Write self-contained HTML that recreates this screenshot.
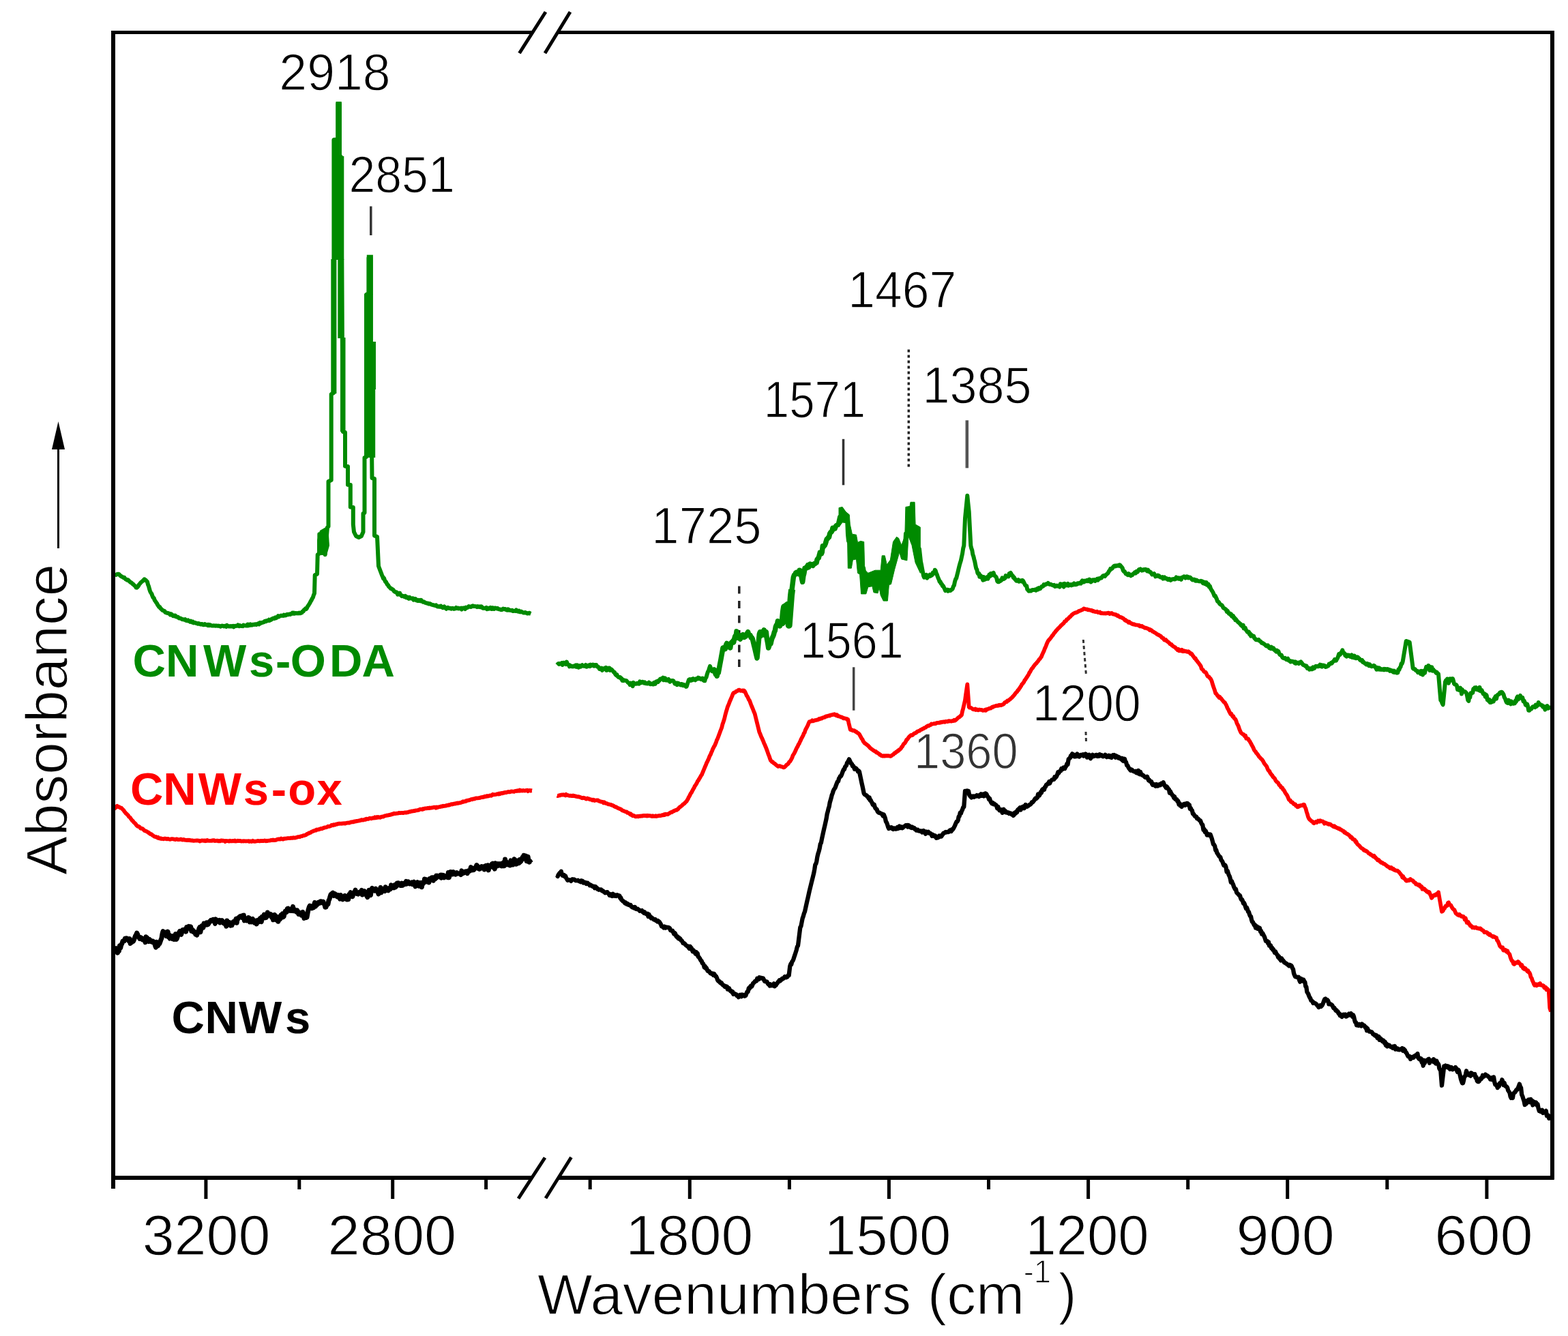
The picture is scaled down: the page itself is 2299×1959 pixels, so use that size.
<!DOCTYPE html>
<html><head><meta charset="utf-8"><title>FTIR spectra</title>
<style>html,body{margin:0;padding:0;background:#fff;overflow:hidden}svg{display:block}</style></head>
<body><svg width="2299" height="1959" viewBox="0 0 2299 1959">
<rect width="2299" height="1959" fill="#fff"/>
<line x1="543.8" y1="302.5" x2="543.8" y2="345" stroke="#333" stroke-width="3.5"/>
<line x1="1236.5" y1="643.8" x2="1236.5" y2="711.3" stroke="#333" stroke-width="3.5"/>
<line x1="1417.8" y1="616.3" x2="1417.8" y2="686.3" stroke="#555" stroke-width="4.5"/>
<line x1="1332.3" y1="512.5" x2="1332.3" y2="686.3" stroke="#222" stroke-width="3.5" stroke-dasharray="4 4"/>
<line x1="1083.8" y1="859.5" x2="1083.8" y2="982" stroke="#222" stroke-width="3.5" stroke-dasharray="11 10.5"/>
<line x1="1251.7" y1="978.3" x2="1251.7" y2="1041.7" stroke="#444" stroke-width="3.5"/>
<line x1="1588.3" y1="938" x2="1592.5" y2="990" stroke="#333" stroke-width="3" stroke-dasharray="5 4"/>
<line x1="1592" y1="1073" x2="1592.5" y2="1088.5" stroke="#333" stroke-width="3" stroke-dasharray="5 4"/>
<text x="409.33" y="132.10" font-size="75.5" fill="#000" textLength="163.29" lengthAdjust="spacingAndGlyphs" stroke="#fff" stroke-width="1.3" font-family="'Liberation Sans', Arial, sans-serif">2918</text>
<text x="511.43" y="281.50" font-size="75.5" fill="#000" textLength="155.33" lengthAdjust="spacingAndGlyphs" stroke="#fff" stroke-width="1.3" font-family="'Liberation Sans', Arial, sans-serif">2851</text>
<text x="1243.22" y="451.40" font-size="75.5" fill="#000" textLength="159.01" lengthAdjust="spacingAndGlyphs" stroke="#fff" stroke-width="1.3" font-family="'Liberation Sans', Arial, sans-serif">1467</text>
<text x="1119.78" y="612.10" font-size="75.5" fill="#000" textLength="149.46" lengthAdjust="spacingAndGlyphs" stroke="#fff" stroke-width="1.3" font-family="'Liberation Sans', Arial, sans-serif">1571</text>
<text x="1352.49" y="590.60" font-size="75.5" fill="#000" textLength="160.07" lengthAdjust="spacingAndGlyphs" stroke="#fff" stroke-width="1.3" font-family="'Liberation Sans', Arial, sans-serif">1385</text>
<text x="955.37" y="797.30" font-size="75.5" fill="#000" textLength="161.13" lengthAdjust="spacingAndGlyphs" stroke="#fff" stroke-width="1.3" font-family="'Liberation Sans', Arial, sans-serif">1725</text>
<text x="1172.96" y="965.00" font-size="75.5" fill="#000" textLength="151.59" lengthAdjust="spacingAndGlyphs" stroke="#fff" stroke-width="1.3" font-family="'Liberation Sans', Arial, sans-serif">1561</text>
<text x="1513.75" y="1057.30" font-size="75.5" fill="#000" textLength="159.01" lengthAdjust="spacingAndGlyphs" stroke="#fff" stroke-width="1.3" font-family="'Liberation Sans', Arial, sans-serif">1200</text>
<text x="1340.02" y="1126.50" font-size="75" fill="#333" textLength="152.65" lengthAdjust="spacingAndGlyphs" stroke="#fff" stroke-width="1.3" font-family="'Liberation Sans', Arial, sans-serif">1360</text>
<text x="208.66" y="1839.70" font-size="84" fill="#000" textLength="187.75" lengthAdjust="spacingAndGlyphs" stroke="#fff" stroke-width="1.3" font-family="'Liberation Sans', Arial, sans-serif">3200</text>
<text x="480.51" y="1839.70" font-size="84" fill="#000" textLength="188.76" lengthAdjust="spacingAndGlyphs" stroke="#fff" stroke-width="1.3" font-family="'Liberation Sans', Arial, sans-serif">2800</text>
<text x="917.26" y="1840.00" font-size="84" fill="#000" textLength="187.10" lengthAdjust="spacingAndGlyphs" stroke="#fff" stroke-width="1.3" font-family="'Liberation Sans', Arial, sans-serif">1800</text>
<text x="1208.87" y="1839.50" font-size="84" fill="#000" textLength="185.51" lengthAdjust="spacingAndGlyphs" stroke="#fff" stroke-width="1.3" font-family="'Liberation Sans', Arial, sans-serif">1500</text>
<text x="1503.42" y="1839.50" font-size="84" fill="#000" textLength="181.28" lengthAdjust="spacingAndGlyphs" stroke="#fff" stroke-width="1.3" font-family="'Liberation Sans', Arial, sans-serif">1200</text>
<text x="1812.56" y="1839.60" font-size="84" fill="#000" textLength="144.18" lengthAdjust="spacingAndGlyphs" stroke="#fff" stroke-width="1.3" font-family="'Liberation Sans', Arial, sans-serif">900</text>
<text x="2103.35" y="1839.60" font-size="84" fill="#000" textLength="144.17" lengthAdjust="spacingAndGlyphs" stroke="#fff" stroke-width="1.3" font-family="'Liberation Sans', Arial, sans-serif">600</text>
<text x="788.03" y="1926.80" font-size="84" fill="#000" textLength="714.12" lengthAdjust="spacingAndGlyphs" stroke="#fff" stroke-width="1.3" font-family="'Liberation Sans', Arial, sans-serif">Wavenumbers (cm</text>
<text x="1500.63" y="1880.80" font-size="48" fill="#000" textLength="40.43" lengthAdjust="spacingAndGlyphs" stroke="#fff" stroke-width="1.3" font-family="'Liberation Sans', Arial, sans-serif">-1</text>
<text x="1551.86" y="1926.40" font-size="84" fill="#000" textLength="26.50" lengthAdjust="spacingAndGlyphs" stroke="#fff" stroke-width="1.3" font-family="'Liberation Sans', Arial, sans-serif">)</text>
<text transform="rotate(-90 98.20 1283.10)" x="98.20" y="1283.10" font-size="85" fill="#000" textLength="456.43" lengthAdjust="spacingAndGlyphs" stroke="#fff" stroke-width="1.3" font-family="'Liberation Sans', Arial, sans-serif">Absorbance</text>
<text x="194.50 243.00 298.00 365.00 404.00 425.75 483.00 530.50" y="992.00" font-size="67" font-weight="bold" fill="#008a00" font-family="'Liberation Sans', Arial, sans-serif">CNWs-ODA</text>
<text x="190.90 239.20 290.80 356.70 397.70 422.30 464.50" y="1180.00" font-size="67" font-weight="bold" fill="#ff0000" font-family="'Liberation Sans', Arial, sans-serif">CNWs-ox</text>
<text x="251.40 300.40 349.90 417.90" y="1515.00" font-size="67" font-weight="bold" fill="#000" font-family="'Liberation Sans', Arial, sans-serif">CNWs</text>
<polyline points="168.3,843.3 169.3,842.9 170.3,842.9 171.3,842.2 172.3,841.9 173.3,841.7 174.3,841.9 175.3,842.9 176.3,844.2 177.3,844.6 178.3,845.5 179.3,845.8 180.3,846.5 181.3,847.1 182.3,846.8 183.3,848.3 184.3,849.4 185.3,849.9 186.3,850.6 187.3,850.1 188.3,850.8 189.3,851.9 190.3,852.8 191.3,853.8 192.3,854.3 193.3,855.0 194.4,856.2 195.4,856.6 196.5,858.0 197.5,859.0 198.6,859.5 199.6,861.6 200.7,861.7 201.8,860.6 202.8,859.4 203.9,857.1 205.0,856.0 206.1,854.5 207.2,853.6 208.3,852.6 209.5,851.8 210.6,850.5 211.7,849.3 212.8,850.1 213.8,850.8 214.9,852.0 216.0,853.3 217.0,857.3 218.0,859.6 219.0,863.5 220.0,866.7 221.1,869.1 222.2,870.4 223.3,873.4 224.5,876.2 225.6,876.8 226.7,880.0 227.8,881.5 228.9,883.3 230.0,884.6 231.1,886.9 232.2,888.3 233.3,890.0 234.3,890.1 235.3,892.1 236.3,892.8 237.3,893.8 238.3,894.9 239.3,895.2 240.3,895.9 241.3,896.0 242.3,897.8 243.3,898.3 244.3,898.4 245.4,898.9 246.4,898.9 247.5,899.5 248.5,900.1 249.6,901.5 250.6,900.2 251.7,900.9 252.7,902.2 253.7,903.2 254.8,903.2 255.8,902.4 256.9,902.5 257.9,904.3 259.0,904.2 260.0,905.0 261.0,904.8 262.1,906.2 263.1,906.6 264.2,906.5 265.2,906.9 266.3,907.4 267.3,908.3 268.4,908.2 269.4,908.5 270.4,908.8 271.5,908.1 272.5,909.9 273.6,910.1 274.6,910.3 275.7,909.4 276.7,910.7 277.7,910.7 278.8,911.7 279.8,910.6 280.9,911.7 281.9,912.6 282.9,911.7 284.0,913.4 285.0,913.1 286.0,913.0 287.1,913.5 288.1,914.0 289.1,914.0 290.2,914.8 291.2,914.1 292.3,914.5 293.3,915.0 294.3,915.6 295.3,915.2 296.3,914.9 297.3,915.9 298.3,916.3 299.3,915.5 300.3,915.1 301.3,915.9 302.3,916.0 303.3,916.0 304.3,917.0 305.3,915.9 306.3,917.1 307.3,916.0 308.3,916.3 309.3,917.2 310.3,917.5 311.3,917.5 312.3,917.4 313.3,917.3 314.3,917.4 315.3,917.5 316.4,917.7 317.4,917.4 318.4,917.7 319.4,917.8 320.4,917.6 321.4,918.0 322.5,918.0 323.5,918.7 324.5,917.9 325.5,917.6 326.5,917.7 327.5,917.9 328.6,918.4 329.6,917.8 330.6,918.2 331.6,919.0 332.6,916.8 333.6,917.6 334.7,918.3 335.7,918.5 336.7,918.3 337.7,918.4 338.7,918.0 339.7,918.5 340.8,918.3 341.8,917.8 342.8,919.3 343.8,918.2 344.8,917.7 345.8,917.9 346.8,917.8 347.8,917.8 348.9,916.4 349.9,917.5 350.9,918.2 351.9,917.1 352.9,917.6 353.9,918.0 354.9,917.9 355.9,918.2 357.0,916.6 358.0,917.2 359.0,917.2 360.0,917.3 361.0,917.5 362.1,917.6 363.1,915.5 364.2,917.3 365.2,915.9 366.3,916.8 367.3,915.5 368.4,916.2 369.4,916.6 370.4,915.8 371.5,915.8 372.5,916.0 373.6,915.5 374.6,915.2 375.7,915.9 376.7,915.0 377.7,915.2 378.8,914.2 379.8,915.4 380.9,913.2 381.9,913.9 382.9,913.0 384.0,912.9 385.0,912.9 386.0,912.3 387.1,912.2 388.1,910.8 389.1,910.5 390.2,911.2 391.2,910.1 392.3,909.8 393.3,910.0 394.3,908.8 395.4,909.8 396.4,909.1 397.5,909.1 398.5,907.4 399.6,907.5 400.6,906.5 401.6,907.0 402.7,907.0 403.7,905.4 404.8,906.2 405.8,905.5 406.9,904.5 407.9,903.2 409.0,904.4 410.0,903.3 411.0,903.0 412.1,902.6 413.1,902.9 414.2,902.7 415.2,903.0 416.3,901.6 417.3,902.4 418.4,902.4 419.4,902.2 420.4,901.1 421.5,900.7 422.5,901.3 423.6,900.7 424.6,900.5 425.7,900.9 426.7,900.0 427.7,899.8 428.7,898.6 429.7,899.5 430.7,898.6 431.7,899.8 432.7,899.5 433.7,898.9 434.7,899.1 435.7,899.4 436.7,898.9 437.7,899.4 438.7,898.6 439.7,899.0 440.7,899.2 441.7,898.3 442.7,898.3 443.8,896.3 444.8,896.3 445.9,894.1 446.9,893.6 447.9,892.4 449.0,893.1 450.0,891.7 451.1,889.1 452.2,887.8 453.4,885.8 454.5,883.9 455.6,881.7 456.7,880.0 457.8,877.6 458.9,875.9 459.9,872.5 461.0,870.0 461.7,843.3 462.8,842.8 463.9,842.2 465.0,841.7 465.7,813.3 467.0,812.5 468.3,811.7 468.3,783.3 469.5,785.5 470.8,787.8 472.0,790.0 473.0,785.0 474.0,780.0 475.4,796.6 476.7,813.3 477.8,800.0 478.9,786.6 480.0,773.3 481.5,772.0 481.5,706.0 482.6,705.5 483.6,705.0 484.6,704.5 485.7,704.0 485.7,578.0 486.9,577.3 488.2,576.7 489.4,576.0 489.4,382.0 489.4,205.0 490.6,204.8 491.8,204.6 492.9,204.4 494.1,204.2 495.3,204.0 495.3,152.0 497.0,152.0 498.0,152.0 498.0,228.0 499.0,229.0 500.0,230.0 501.4,431.5 502.8,633.0 503.9,633.3 504.9,633.7 506.0,634.0 506.0,683.6 507.0,683.7 508.0,683.8 509.0,683.9 510.0,684.0 510.0,710.8 511.3,710.9 512.5,710.9 513.8,711.0 513.8,743.4 514.8,743.5 515.8,743.7 516.8,743.9 517.8,744.0 517.8,769.0 519.0,780.0 520.0,782.0 521.0,784.0 522.0,786.0 523.0,786.5 524.0,787.0 525.0,787.5 526.0,788.0 527.0,787.5 528.0,787.0 529.0,786.5 530.0,786.0 531.2,783.0 532.5,780.0 532.5,753.0 533.5,752.5 534.5,752.0 534.5,671.0 535.8,670.5 537.0,670.0 537.0,432.0 538.2,431.3 539.3,430.7 540.5,430.0 540.5,378.0 542.0,377.0 543.5,378.0 543.5,502.0 544.5,601.5 545.5,701.0 546.7,701.3 547.8,701.7 549.0,702.0 549.0,785.5 550.0,785.9 551.0,786.2 552.0,786.6 553.0,787.0 554.0,808.5 555.0,830.0 556.0,832.7 557.0,835.3 558.0,838.0 559.0,840.6 560.0,843.3 561.0,845.3 562.0,848.3 563.0,847.7 564.0,850.5 565.0,853.0 566.0,853.2 567.0,855.4 568.0,857.3 569.0,857.7 570.0,860.0 571.0,860.8 572.0,861.9 573.0,863.1 574.0,863.3 575.0,864.0 576.0,864.3 577.0,865.6 578.0,867.3 579.0,867.5 580.0,868.3 581.0,868.2 582.0,868.7 583.1,871.7 584.1,871.2 585.1,871.3 586.1,869.6 587.2,872.3 588.2,872.8 589.2,874.1 590.2,873.8 591.3,873.9 592.3,874.9 593.3,875.0 594.3,873.9 595.3,876.2 596.3,876.0 597.3,875.5 598.3,877.2 599.3,877.8 600.3,875.8 601.3,876.5 602.3,877.5 603.3,877.6 604.3,877.5 605.3,877.3 606.3,879.7 607.3,879.2 608.3,877.9 609.3,878.1 610.3,880.4 611.3,880.2 612.3,881.0 613.3,880.0 614.3,880.9 615.3,880.1 616.3,881.2 617.3,879.8 618.3,881.2 619.3,882.0 620.3,882.7 621.3,882.2 622.3,882.9 623.3,883.7 624.3,883.9 625.3,884.5 626.3,884.5 627.3,884.5 628.3,885.6 629.3,885.4 630.3,885.1 631.3,885.6 632.3,886.4 633.3,886.7 634.3,886.9 635.3,887.3 636.3,887.4 637.3,887.8 638.3,887.9 639.3,887.3 640.3,888.7 641.3,889.4 642.3,889.3 643.3,889.1 644.3,889.8 645.3,889.0 646.3,888.6 647.3,890.2 648.3,889.8 649.3,891.2 650.3,890.2 651.3,889.4 652.3,890.7 653.3,891.7 654.3,892.8 655.4,891.4 656.4,890.7 657.4,891.2 658.4,892.1 659.5,892.0 660.5,891.8 661.5,892.7 662.5,892.2 663.6,891.7 664.6,892.1 665.6,892.9 666.6,892.4 667.7,892.4 668.7,890.9 669.7,891.6 670.8,892.2 671.8,891.5 672.8,892.4 673.8,892.1 674.9,892.3 675.9,891.6 676.9,893.5 677.9,892.6 679.0,891.5 680.0,891.7 681.0,891.5 682.0,893.0 683.1,890.7 684.1,891.3 685.1,891.1 686.1,890.1 687.2,889.1 688.2,889.7 689.2,889.6 690.2,889.9 691.3,889.4 692.3,888.6 693.3,888.3 694.3,889.1 695.4,889.1 696.4,889.1 697.5,889.2 698.5,889.2 699.6,890.1 700.6,889.0 701.6,889.6 702.7,890.2 703.7,889.4 704.8,890.3 705.8,889.4 706.9,890.6 707.9,891.7 709.0,891.9 710.0,891.7 711.0,891.7 712.1,891.7 713.1,890.9 714.1,893.2 715.1,892.4 716.2,892.8 717.2,891.5 718.2,892.1 719.2,891.0 720.3,892.9 721.3,893.0 722.3,891.1 723.4,892.5 724.4,893.0 725.4,891.4 726.4,891.4 727.5,892.0 728.5,892.4 729.5,891.9 730.5,893.0 731.6,893.2 732.6,893.5 733.6,893.6 734.6,894.2 735.7,894.1 736.7,893.3 737.7,892.5 738.7,893.2 739.7,893.0 740.8,893.1 741.8,894.0 742.8,894.2 743.8,894.7 744.8,893.4 745.8,893.8 746.8,894.8 747.8,894.8 748.9,894.9 749.9,895.2 750.9,894.8 751.9,896.0 752.9,895.9 753.9,895.8 754.9,895.5 755.9,896.0 757.0,894.4 758.0,895.7 759.0,896.6 760.0,896.7 761.0,895.8 762.0,897.2 763.0,897.4 764.1,896.5 765.1,897.4 766.1,897.6 767.1,898.3 768.1,898.6 769.1,898.3 770.2,897.9 771.2,898.6 772.2,898.9 773.2,899.6 774.2,899.5 775.2,898.9 776.3,898.7 777.3,899.6 778.3,900.0" fill="none" stroke="#008a00" stroke-width="6.0" stroke-linejoin="round" stroke-linecap="butt"/>
<polygon points="1230.0,744.5 1235.1,743.4 1240.2,750.6 1245.3,754.7 1246.3,768.9 1249.4,783.2 1255.5,784.2 1257.5,795.4 1261.6,793.4 1266.7,794.4 1267.7,835.2 1272.8,840.3 1283.0,836.2 1291.2,836.2 1293.2,814.8 1297.3,814.8 1300.3,828.0 1305.4,821.0 1309.5,794.4 1314.6,787.3 1317.7,789.3 1321.7,799.5 1326.8,786.3 1327.9,743.4 1334.0,742.4 1335.0,736.3 1341.1,736.3 1342.1,768.9 1349.3,773.0 1349.3,840.3 1342.1,825.0 1337.0,799.5 1331.9,786.3 1329.9,821.9 1321.7,819.9 1318.7,809.7 1311.6,835.2 1306.5,856.6 1303.4,857.6 1301.4,881.1 1295.2,881.1 1291.2,872.9 1289.1,861.7 1287.1,869.8 1281.0,868.8 1278.9,859.7 1272.8,860.7 1269.8,870.9 1262.6,870.9 1260.6,842.3 1257.5,840.3 1255.5,819.9 1250.4,820.9 1248.3,833.2 1243.3,833.2 1242.2,766.9 1235.1,765.9 1230.0,773.0" fill="#008a00" stroke="#008a00" stroke-width="1"/>
<polyline points="1045.1,982.2 1046.1,983.8 1047.2,982.0 1048.2,984.8 1049.2,988.6 1050.2,983.5 1051.3,991.3 1052.3,984.6 1053.3,986.7 1054.4,980.6 1055.5,974.5 1056.7,968.4 1057.8,962.2 1058.9,956.1 1060.0,950.0 1061.1,949.8 1062.2,949.8 1063.3,951.6 1064.5,945.9 1065.6,943.5 1066.7,948.3 1067.7,948.6 1068.7,947.9 1069.7,946.3 1070.7,950.0 1071.7,943.0 1072.7,941.9 1073.7,942.4 1074.7,939.9 1075.7,941.9 1076.7,936.7 1077.8,932.9 1078.9,934.1 1080.0,925.9 1081.1,935.3 1082.2,931.6 1083.3,931.7 1084.3,934.1 1085.3,937.2 1086.3,932.2 1087.3,931.7 1088.3,931.3 1089.3,930.6 1090.3,931.3 1091.3,934.5 1092.3,933.2 1093.3,933.3 1094.4,931.3 1095.6,928.5 1096.7,926.7 1097.8,930.6 1098.9,931.2 1100.0,931.4 1101.1,935.0 1102.2,934.7 1103.3,936.7 1104.4,941.4 1105.5,946.1 1106.7,950.9 1107.8,955.6 1108.9,960.3 1110.0,965.0 1111.1,953.3 1112.2,941.7 1113.3,930.0 1114.3,926.9 1115.3,932.8 1116.3,930.1 1117.3,926.4 1118.3,930.9 1119.3,928.8 1120.3,923.9 1121.3,931.2 1122.3,927.8 1123.3,926.7 1124.4,936.6 1125.6,942.7 1126.7,950.0 1127.8,946.9 1128.9,940.7 1130.0,944.0 1131.1,938.9 1132.2,935.4 1133.3,933.3 1134.3,930.8 1135.3,926.8 1136.3,925.0 1137.3,919.1 1138.3,916.7 1139.3,916.2 1140.4,910.7 1141.5,914.4 1142.5,916.6 1143.5,917.8 1144.6,913.3 1145.7,913.4 1146.7,913.3 1147.8,909.3 1148.9,897.0 1150.0,890.0 1151.0,891.1 1152.0,892.7 1153.0,888.1 1154.0,890.3 1155.0,886.7 1156.7,916.7 1157.8,902.2 1158.9,887.8 1160.0,873.3 1161.1,864.4 1162.2,855.6 1163.3,846.7 1164.4,843.3 1165.6,842.6 1166.7,840.0 1167.8,839.3 1168.9,839.1 1170.0,840.2 1171.1,841.6 1172.2,836.2 1173.3,836.7 1174.4,841.3 1175.6,848.6 1176.7,853.3 1177.8,844.9 1178.9,840.8 1180.0,833.3 1181.1,833.7 1182.2,831.8 1183.3,832.5 1184.5,828.6 1185.6,831.8 1186.7,830.0 1187.7,827.1 1188.8,828.1 1189.8,827.9 1190.8,827.7 1191.9,829.3 1192.9,827.7 1194.0,826.5 1195.0,826.7 1196.0,825.5 1197.1,825.1 1198.1,820.4 1199.2,818.9 1200.2,818.2 1201.2,814.6 1202.3,810.0 1203.3,810.0 1204.3,812.0 1205.3,809.5 1206.3,800.8 1207.3,801.9 1208.3,800.7 1209.3,799.5 1210.3,797.1 1211.3,793.6 1212.3,790.3 1213.3,790.0 1214.4,788.2 1215.5,787.8 1216.7,782.4 1217.8,780.6 1218.9,780.2 1220.0,778.3 1221.0,774.2 1222.1,775.8 1223.1,774.5 1224.2,774.9 1225.2,772.0 1226.2,770.7 1227.3,770.4" fill="none" stroke="#008a00" stroke-width="7.5" stroke-linejoin="round"/>
<polyline points="1145.7,913.4 1146.7,913.3 1147.8,909.3 1148.9,897.0 1150.0,890.0 1151.0,891.1 1152.0,892.7 1153.0,888.1 1154.0,890.3 1155.0,886.7 1156.7,916.7 1157.8,902.2 1158.9,887.8 1160.0,873.3 1161.1,864.4" fill="none" stroke="#008a00" stroke-width="10" stroke-linejoin="round"/>
<polyline points="816.7,975.0 817.7,973.9 818.7,973.1 819.7,973.9 820.7,973.1 821.7,973.5 822.7,973.6 823.7,972.2 824.7,974.9 825.7,971.7 826.7,971.7 827.7,973.3 828.7,972.6 829.8,974.1 830.8,970.6 831.8,972.8 832.8,974.3 833.9,975.1 834.9,977.3 835.9,975.5 836.9,977.0 838.0,976.8 839.0,977.4 840.0,976.7 841.0,977.2 842.1,976.4 843.1,977.1 844.2,975.3 845.2,977.8 846.3,975.3 847.3,976.7 848.4,978.7 849.4,976.1 850.4,976.3 851.5,977.5 852.5,976.2 853.6,975.2 854.6,976.4 855.7,976.7 856.7,976.0 857.7,976.7 858.8,975.0 859.8,977.7 860.9,977.6 861.9,975.7 862.9,975.9 864.0,975.1 865.0,977.1 866.0,974.7 867.1,976.1 868.1,974.8 869.1,974.5 870.2,976.0 871.2,976.6 872.3,975.1 873.3,975.0 874.4,975.1 875.5,977.6 876.6,977.4 877.8,978.7 878.9,980.8 880.0,980.0 881.0,981.4 882.1,979.6 883.1,982.8 884.2,980.4 885.2,981.4 886.3,979.9 887.3,980.7 888.4,978.9 889.4,982.9 890.4,982.6 891.5,979.8 892.5,979.6 893.6,979.6 894.6,982.8 895.7,981.1 896.7,981.7 897.8,983.0 898.9,984.1 900.0,985.7 901.1,986.0 902.2,988.6 903.3,990.0 904.3,989.1 905.3,991.3 906.3,992.3 907.3,993.2 908.3,993.1 909.3,993.0 910.3,994.9 911.3,994.8 912.3,997.8 913.3,996.7 914.3,998.1 915.4,997.6 916.4,997.7 917.4,998.0 918.5,998.2 919.5,999.4 920.5,1000.6 921.5,1001.3 922.6,1001.9 923.6,1004.1 924.6,1001.5 925.7,1002.8 926.7,1003.3 927.7,1006.2 928.8,1000.9 929.8,1002.2 930.9,1002.8 931.9,1002.7 932.9,1002.8 934.0,1001.9 935.0,1002.4 936.0,1001.9 937.1,1002.5 938.1,999.4 939.1,1000.4 940.2,1001.2 941.2,999.9 942.3,999.7 943.3,1000.7 944.3,1001.6 945.4,1000.4 946.4,1002.0 947.4,1002.3 948.5,1002.0 949.5,1002.5 950.5,1002.0 951.5,1000.7 952.6,1002.5 953.6,1003.2 954.6,1002.3 955.7,1003.0 956.7,1003.3 957.7,1003.5 958.7,1001.1 959.8,1002.1 960.8,1002.8 961.8,999.5 962.8,999.6 963.9,998.7 964.9,999.9 965.9,997.9 966.9,997.9 968.0,995.5 969.0,995.6 970.0,995.0 971.0,995.2 972.0,993.6 973.1,997.3 974.1,997.0 975.1,994.3 976.1,997.3 977.2,996.6 978.2,997.5 979.2,997.7 980.2,995.9 981.3,997.6 982.3,999.7 983.3,998.3 984.3,998.1 985.4,997.9 986.4,998.0 987.4,998.5 988.5,1000.6 989.5,1002.5 990.5,1001.5 991.5,1001.6 992.6,1004.2 993.6,1001.6 994.6,1001.8 995.7,1003.5 996.7,1003.3 997.7,1004.2 998.7,1002.9 999.7,1003.0 1000.7,1005.0 1001.7,1005.3 1002.7,1003.9 1003.7,1005.5 1004.7,1005.4 1005.7,1006.9 1006.7,1006.7 1007.8,1003.2 1008.9,999.9 1010.0,996.7 1011.0,996.2 1012.1,997.6 1013.1,997.9 1014.2,995.9 1015.2,997.1 1016.3,995.2 1017.3,996.0 1018.4,996.7 1019.4,997.4 1020.4,995.2 1021.5,995.4 1022.5,995.6 1023.6,993.7 1024.6,995.2 1025.7,994.4 1026.7,995.0 1027.8,996.0 1028.9,994.9 1030.0,994.5 1031.1,997.2 1032.2,998.0 1033.3,998.3 1034.4,994.6 1035.5,993.2 1036.7,988.8 1037.8,985.4 1038.9,983.6 1040.0,980.0 1041.0,976.8 1042.0,979.4 1043.1,981.5 1044.1,984.1 1045.1,982.2 1046.1,983.8 1047.2,982.0 1048.2,984.8 1049.2,988.6 1050.2,983.5 1051.3,991.3 1052.3,984.6 1053.3,986.7 1054.4,980.6 1055.5,974.5 1056.7,968.4 1057.8,962.2 1058.9,956.1 1060.0,950.0 1061.1,949.8 1062.2,949.8 1063.3,951.6 1064.5,945.9 1065.6,943.5 1066.7,948.3 1067.7,948.6 1068.7,947.9 1069.7,946.3 1070.7,950.0 1071.7,943.0 1072.7,941.9 1073.7,942.4 1074.7,939.9 1075.7,941.9 1076.7,936.7 1077.8,932.9 1078.9,934.1 1080.0,925.9 1081.1,935.3 1082.2,931.6 1083.3,931.7 1084.3,934.1 1085.3,937.2 1086.3,932.2 1087.3,931.7 1088.3,931.3 1089.3,930.6 1090.3,931.3 1091.3,934.5 1092.3,933.2 1093.3,933.3 1094.4,931.3 1095.6,928.5 1096.7,926.7 1097.8,930.6 1098.9,931.2 1100.0,931.4 1101.1,935.0 1102.2,934.7 1103.3,936.7 1104.4,941.4 1105.5,946.1 1106.7,950.9 1107.8,955.6 1108.9,960.3 1110.0,965.0 1111.1,953.3 1112.2,941.7 1113.3,930.0 1114.3,926.9 1115.3,932.8 1116.3,930.1 1117.3,926.4 1118.3,930.9 1119.3,928.8 1120.3,923.9 1121.3,931.2 1122.3,927.8 1123.3,926.7 1124.4,936.6 1125.6,942.7 1126.7,950.0 1127.8,946.9 1128.9,940.7 1130.0,944.0 1131.1,938.9 1132.2,935.4 1133.3,933.3 1134.3,930.8 1135.3,926.8 1136.3,925.0 1137.3,919.1 1138.3,916.7 1139.3,916.2 1140.4,910.7 1141.5,914.4 1142.5,916.6 1143.5,917.8 1144.6,913.3 1145.7,913.4 1146.7,913.3 1147.8,909.3 1148.9,897.0 1150.0,890.0 1151.0,891.1 1152.0,892.7 1153.0,888.1 1154.0,890.3 1155.0,886.7 1156.7,916.7 1157.8,902.2 1158.9,887.8 1160.0,873.3 1161.1,864.4 1162.2,855.6 1163.3,846.7 1164.4,843.3 1165.6,842.6 1166.7,840.0 1167.8,839.3 1168.9,839.1 1170.0,840.2 1171.1,841.6 1172.2,836.2 1173.3,836.7 1174.4,841.3 1175.6,848.6 1176.7,853.3 1177.8,844.9 1178.9,840.8 1180.0,833.3 1181.1,833.7 1182.2,831.8 1183.3,832.5 1184.5,828.6 1185.6,831.8 1186.7,830.0 1187.7,827.1 1188.8,828.1 1189.8,827.9 1190.8,827.7 1191.9,829.3 1192.9,827.7 1194.0,826.5 1195.0,826.7 1196.0,825.5 1197.1,825.1 1198.1,820.4 1199.2,818.9 1200.2,818.2 1201.2,814.6 1202.3,810.0 1203.3,810.0 1204.3,812.0 1205.3,809.5 1206.3,800.8 1207.3,801.9 1208.3,800.7 1209.3,799.5 1210.3,797.1 1211.3,793.6 1212.3,790.3 1213.3,790.0 1214.4,788.2 1215.5,787.8 1216.7,782.4 1217.8,780.6 1218.9,780.2 1220.0,778.3 1221.0,774.2 1222.1,775.8 1223.1,774.5 1224.2,774.9 1225.2,772.0 1226.2,770.7 1227.3,770.4 1228.3,770.0 1229.7,763.9 1231.0,757.9 1232.0,757.1 1233.0,756.3 1234.0,755.5 1235.0,754.7 1236.0,755.3 1237.0,756.1 1238.0,756.9 1239.0,757.7 1240.0,758.5 1241.0,759.0 1242.0,759.5 1243.0,784.0 1244.0,793.4 1245.0,793.8 1246.0,798.9 1247.0,802.7 1248.0,805.0 1249.0,805.2 1250.0,803.3 1251.0,802.1 1252.0,802.1 1253.0,802.1 1254.0,802.1 1255.0,802.1 1256.0,806.0 1257.0,813.9 1258.0,817.9 1259.0,818.0 1260.0,818.0 1261.0,820.9 1262.0,827.9 1263.0,832.3 1264.0,832.4 1265.0,832.5 1266.0,832.6 1267.0,838.8 1268.0,853.2 1269.0,853.7 1270.0,853.9 1271.0,852.7 1272.0,851.5 1273.0,850.4 1274.0,850.2 1275.0,849.9 1276.0,849.6 1277.0,849.3 1278.0,849.0 1279.0,849.0 1280.0,850.9 1281.0,852.9 1282.0,852.8 1283.0,852.7 1284.0,852.7 1285.0,852.8 1286.0,852.9 1287.0,853.0 1288.0,851.2 1289.0,849.2 1290.0,851.4 1291.0,854.0 1292.0,851.1 1293.0,846.8 1294.0,846.7 1295.0,847.7 1296.0,848.0 1297.0,848.0 1298.0,849.5 1299.0,851.7 1300.0,853.9 1301.0,854.1 1302.0,849.9 1303.0,843.3 1304.0,840.2 1305.0,839.3 1306.0,836.9 1307.0,832.6 1308.0,827.2 1309.0,821.9 1310.0,817.8 1311.0,815.0 1312.0,812.3 1313.0,809.8 1314.0,807.4 1315.0,805.3 1316.0,803.8 1317.0,802.3 1318.0,801.1 1319.0,801.7 1320.0,804.6 1321.0,807.6 1322.0,809.3 1323.0,808.2 1324.0,807.0 1325.0,805.8 1326.0,804.7 1327.0,799.8 1328.0,782.4 1329.0,782.5 1330.0,781.6 1331.0,772.6 1332.0,764.6 1333.0,765.9 1334.0,767.1 1335.0,765.3 1336.0,766.6 1337.0,767.9 1338.0,770.4 1339.0,772.9 1340.0,775.4 1341.0,777.9 1342.0,795.1 1343.0,798.2 1344.0,799.5 1345.0,800.9 1346.0,802.2 1347.0,803.6 1348.0,804.9 1349.0,814.1 1350.0,823.3 1351.0,828.0 1352.0,833.6 1353.0,838.8 1354.0,844.1 1355.0,846.7 1356.1,845.5 1357.1,845.6 1358.2,842.8 1359.3,847.7 1360.3,844.3 1361.4,844.8 1362.4,845.2 1363.5,842.6 1364.6,844.5 1365.6,843.6 1366.7,843.3 1367.7,839.8 1368.7,841.0 1369.7,840.8 1370.7,835.8 1371.7,836.7 1372.7,840.3 1373.7,842.3 1374.7,845.2 1375.7,847.9 1376.7,850.0 1377.7,853.2 1378.8,853.1 1379.8,856.0 1380.8,856.2 1381.9,859.2 1382.9,859.0 1384.0,861.5 1385.0,863.3 1386.0,866.1 1387.0,865.2 1388.0,865.2 1389.0,864.6 1390.0,866.7 1391.1,865.2 1392.2,865.8 1393.3,866.1 1394.5,864.9 1395.6,864.5 1396.7,863.3 1397.8,859.9 1398.9,858.3 1400.0,852.8 1401.1,849.3 1402.2,847.7 1403.3,843.3 1404.4,838.9 1405.5,834.1 1406.7,829.3 1407.8,825.3 1408.9,821.9 1410.0,816.7 1411.1,811.6 1412.2,804.1 1413.3,800.0 1415.0,760.0 1416.1,748.9 1417.2,737.8 1418.3,726.7 1419.5,738.9 1420.7,750.0 1422.0,775.0 1423.3,800.0 1424.3,804.2 1425.3,806.8 1426.3,812.9 1427.3,815.7 1428.3,820.0 1429.3,823.6 1430.3,829.0 1431.3,833.6 1432.3,835.2 1433.3,840.0 1434.3,841.5 1435.3,840.9 1436.3,845.8 1437.3,843.4 1438.3,846.4 1439.3,845.2 1440.3,848.0 1441.3,850.7 1442.3,846.0 1443.3,850.0 1444.3,848.7 1445.4,849.1 1446.4,847.6 1447.4,846.1 1448.5,848.7 1449.5,845.5 1450.5,842.6 1451.5,844.9 1452.6,841.0 1453.6,843.7 1454.6,840.8 1455.7,840.9 1456.7,840.0 1457.8,843.7 1458.9,844.6 1460.0,845.4 1461.1,847.3 1462.2,852.1 1463.3,853.3 1464.3,853.3 1465.4,851.3 1466.4,852.2 1467.4,851.2 1468.5,850.7 1469.5,847.4 1470.5,848.6 1471.5,849.0 1472.6,848.2 1473.6,847.7 1474.6,844.1 1475.7,845.8 1476.7,845.0 1477.7,844.4 1478.7,845.3 1479.7,841.1 1480.7,840.7 1481.7,840.0 1482.7,841.5 1483.8,843.7 1484.8,844.0 1485.8,846.9 1486.9,846.6 1487.9,849.0 1489.0,849.8 1490.0,851.7 1491.0,851.8 1492.0,851.1 1493.0,850.3 1494.0,852.7 1495.0,852.0 1496.0,851.2 1497.0,851.9 1498.0,852.6 1499.0,850.8 1500.0,851.7 1501.0,853.5 1502.1,855.9 1503.1,857.8 1504.2,858.9 1505.2,859.2 1506.2,864.1 1507.3,865.1 1508.3,866.7 1509.4,866.6 1510.4,866.1 1511.5,866.5 1512.6,865.7 1513.6,865.0 1514.7,865.1 1515.7,865.1 1516.8,864.9 1517.9,864.3 1518.9,865.7 1520.0,865.0 1521.0,863.2 1522.1,864.3 1523.1,862.2 1524.2,862.8 1525.2,863.1 1526.3,861.4 1527.3,860.0 1528.3,860.0 1529.4,859.5 1530.4,857.2 1531.5,857.6 1532.5,857.6 1533.6,856.5 1534.6,856.3 1535.7,856.3 1536.7,855.0 1537.7,856.2 1538.7,856.8 1539.7,857.0 1540.7,856.7 1541.7,857.5 1542.7,857.8 1543.7,858.2 1544.7,858.8 1545.7,857.9 1546.7,860.0 1547.7,859.5 1548.7,859.6 1549.7,858.6 1550.7,859.3 1551.7,859.6 1552.7,858.8 1553.7,860.7 1554.7,856.3 1555.7,858.3 1556.7,858.3 1557.7,856.6 1558.7,859.1 1559.7,860.5 1560.7,855.8 1561.7,858.2 1562.7,858.5 1563.7,857.7 1564.7,858.4 1565.7,855.8 1566.7,858.6 1567.7,858.1 1568.7,857.7 1569.7,857.1 1570.7,858.2 1571.7,857.1 1572.7,857.7 1573.7,857.0 1574.7,855.4 1575.7,857.3 1576.7,857.3 1577.7,857.1 1578.7,857.1 1579.8,855.2 1580.8,855.5 1581.8,855.7 1582.8,854.8 1583.9,855.4 1584.9,855.6 1585.9,852.6 1586.9,851.3 1588.0,853.3 1589.0,853.5 1590.0,851.7 1591.0,852.5 1592.1,852.3 1593.1,851.0 1594.2,850.8 1595.2,852.2 1596.3,850.5 1597.3,849.6 1598.3,850.3 1599.4,853.4 1600.4,852.8 1601.5,850.4 1602.5,850.3 1603.6,851.1 1604.6,850.2 1605.7,851.9 1606.7,850.7 1607.7,850.2 1608.7,848.8 1609.8,850.6 1610.8,848.4 1611.8,848.7 1612.8,848.1 1613.9,847.3 1614.9,847.5 1615.9,846.1 1616.9,844.7 1618.0,843.9 1619.0,844.3 1620.0,845.0 1621.0,843.2 1622.0,842.7 1623.1,841.6 1624.1,840.9 1625.1,839.3 1626.1,837.4 1627.2,836.3 1628.2,833.9 1629.2,834.5 1630.2,833.9 1631.3,832.8 1632.3,831.0 1633.3,830.0 1634.3,829.6 1635.4,830.4 1636.5,829.4 1637.5,829.8 1638.5,829.5 1639.6,828.9 1640.7,829.7 1641.7,828.3 1642.7,829.1 1643.7,830.7 1644.7,831.6 1645.7,832.9 1646.7,836.4 1647.7,837.9 1648.7,837.7 1649.7,839.5 1650.7,841.4 1651.7,841.7 1652.7,842.6 1653.8,843.2 1654.8,841.2 1655.8,841.9 1656.9,843.1 1657.9,844.2 1659.0,843.2 1660.0,843.3 1661.0,841.7 1662.0,841.3 1663.0,840.2 1664.0,839.2 1665.0,840.5 1666.0,837.8 1667.0,837.5 1668.0,838.6 1669.0,836.9 1670.0,835.0 1671.0,835.3 1672.0,834.4 1673.0,835.4 1674.0,836.5 1675.0,835.6 1676.0,836.1 1677.0,835.1 1678.0,835.5 1679.0,834.8 1680.0,835.0 1681.0,836.0 1682.0,837.4 1683.1,835.6 1684.1,837.5 1685.1,838.4 1686.1,838.3 1687.2,839.2 1688.2,840.8 1689.2,842.5 1690.2,842.0 1691.3,842.3 1692.3,841.3 1693.3,843.3 1694.3,845.4 1695.3,844.0 1696.3,844.3 1697.3,843.6 1698.3,844.9 1699.3,844.3 1700.3,845.7 1701.3,846.4 1702.3,846.3 1703.3,846.9 1704.3,846.2 1705.3,848.6 1706.3,847.1 1707.3,846.4 1708.3,848.2 1709.3,848.0 1710.3,848.1 1711.3,849.0 1712.3,849.9 1713.3,850.0 1714.3,848.8 1715.4,849.6 1716.4,850.9 1717.4,850.1 1718.5,849.2 1719.5,849.3 1720.5,849.0 1721.5,848.9 1722.6,849.5 1723.6,848.6 1724.6,846.4 1725.7,848.4 1726.7,848.3 1727.7,847.4 1728.8,848.7 1729.8,847.5 1730.8,848.0 1731.9,849.8 1732.9,846.8 1734.0,846.6 1735.0,846.2 1736.0,845.2 1737.1,845.6 1738.1,847.5 1739.2,846.5 1740.2,845.3 1741.2,845.6 1742.3,847.4 1743.3,846.7 1744.3,846.4 1745.4,847.1 1746.4,848.2 1747.4,849.5 1748.5,850.4 1749.5,849.9 1750.5,849.5 1751.5,849.9 1752.6,851.8 1753.6,851.8 1754.6,850.7 1755.7,851.7 1756.7,851.7 1757.7,852.3 1758.7,852.4 1759.7,852.2 1760.7,851.8 1761.7,852.9 1762.7,852.3 1763.7,855.1 1764.7,854.8 1765.7,853.6 1766.7,856.3 1767.7,856.2 1768.7,854.0 1769.7,857.7 1770.7,857.1 1771.7,856.7 1772.8,860.5 1773.9,859.5 1775.0,863.0 1776.1,864.8 1777.2,866.5 1778.3,868.3 1779.4,870.7 1780.5,873.8 1781.7,873.5 1782.8,876.0 1783.9,878.1 1785.0,881.7 1786.1,882.2 1787.1,883.2 1788.2,885.2 1789.3,886.2 1790.3,887.0 1791.4,887.4 1792.4,888.6 1793.5,891.1 1794.6,892.0 1795.6,892.3 1796.7,893.3 1797.7,894.0 1798.8,896.9 1799.8,895.8 1800.8,898.1 1801.9,899.7 1802.9,899.3 1804.0,901.4 1805.0,900.5 1806.0,903.7 1807.1,903.9 1808.1,903.2 1809.2,906.5 1810.2,906.0 1811.2,909.2 1812.3,908.3 1813.3,910.0 1814.3,910.9 1815.4,912.4 1816.4,912.8 1817.5,914.4 1818.5,914.7 1819.6,916.9 1820.6,917.3 1821.7,918.6 1822.7,916.6 1823.7,921.6 1824.8,921.5 1825.8,920.7 1826.9,923.7 1827.9,925.1 1829.0,926.7 1830.0,926.7 1831.0,926.5 1832.0,930.0 1833.1,929.2 1834.1,932.7 1835.1,931.0 1836.1,932.7 1837.2,932.6 1838.2,932.7 1839.2,935.8 1840.2,936.5 1841.3,938.1 1842.3,938.3 1843.3,938.3 1844.3,938.4 1845.4,937.9 1846.4,939.5 1847.5,940.1 1848.5,940.6 1849.6,942.6 1850.6,943.0 1851.7,943.0 1852.7,944.1 1853.7,944.4 1854.8,945.4 1855.8,946.6 1856.9,947.4 1857.9,946.4 1859.0,946.2 1860.0,948.3 1861.0,950.2 1862.0,949.4 1863.1,951.0 1864.1,948.7 1865.1,950.5 1866.1,951.4 1867.2,950.5 1868.2,951.9 1869.2,953.7 1870.2,954.5 1871.3,955.6 1872.3,953.6 1873.3,955.0 1874.4,955.0 1875.5,958.3 1876.7,960.1 1877.8,960.7 1878.9,960.6 1880.0,963.3 1881.0,964.6 1882.0,965.1 1883.1,965.4 1884.1,964.9 1885.1,966.2 1886.1,967.2 1887.2,966.3 1888.2,965.6 1889.2,968.3 1890.2,968.9 1891.3,969.0 1892.3,970.4 1893.3,970.0 1894.3,969.5 1895.3,970.1 1896.3,970.0 1897.3,971.0 1898.3,972.2 1899.3,970.4 1900.3,972.8 1901.3,972.4 1902.3,971.8 1903.3,971.7 1904.3,973.0 1905.3,971.2 1906.3,971.4 1907.3,970.5 1908.3,971.7 1909.4,973.1 1910.4,974.9 1911.5,975.0 1912.6,975.8 1913.6,976.0 1914.7,977.3 1915.7,976.6 1916.8,980.0 1917.9,979.5 1918.9,979.7 1920.0,981.7 1921.0,980.6 1922.0,980.1 1923.1,981.4 1924.1,981.2 1925.1,978.4 1926.1,980.3 1927.2,979.9 1928.2,978.0 1929.2,976.8 1930.2,977.1 1931.3,976.8 1932.3,977.4 1933.3,976.7 1934.3,976.3 1935.4,974.7 1936.4,976.9 1937.4,975.2 1938.5,977.6 1939.5,975.5 1940.5,976.0 1941.5,975.8 1942.6,976.2 1943.6,978.0 1944.6,977.6 1945.7,977.3 1946.7,976.7 1947.7,976.3 1948.7,973.6 1949.8,973.9 1950.8,973.1 1951.8,971.9 1952.8,972.6 1953.9,970.6 1954.9,969.8 1955.9,968.7 1956.9,967.0 1958.0,968.8 1959.0,968.8 1960.0,966.7 1961.0,965.2 1962.1,962.4 1963.1,959.0 1964.2,960.2 1965.2,959.5 1966.2,956.9 1967.3,955.9 1968.3,953.3 1969.3,956.5 1970.3,957.8 1971.3,957.9 1972.3,961.1 1973.3,961.7 1974.3,962.6 1975.4,960.4 1976.4,961.6 1977.5,960.7 1978.5,962.1 1979.6,962.9 1980.6,961.3 1981.7,960.4 1982.7,963.9 1983.7,963.1 1984.8,964.3 1985.8,961.6 1986.9,964.1 1987.9,965.2 1989.0,965.2 1990.0,963.3 1991.0,963.9 1992.0,965.2 1993.0,965.7 1994.0,967.7 1995.0,968.5 1996.0,968.4 1997.0,967.8 1998.0,970.8 1999.0,970.4 2000.0,971.7 2001.0,972.7 2002.0,972.7 2003.1,974.5 2004.1,974.4 2005.1,973.2 2006.1,974.4 2007.2,976.2 2008.2,974.2 2009.2,975.6 2010.2,976.7 2011.3,977.2 2012.3,976.8 2013.3,976.7 2014.3,975.9 2015.3,976.4 2016.3,978.4 2017.3,979.1 2018.3,981.7 2019.3,978.8 2020.3,981.3 2021.3,981.5 2022.3,979.5 2023.3,981.7 2024.3,980.9 2025.4,981.9 2026.4,981.2 2027.4,981.5 2028.5,982.2 2029.5,980.9 2030.5,982.2 2031.5,981.1 2032.6,981.2 2033.6,982.2 2034.6,981.1 2035.7,982.0 2036.7,981.7 2037.8,983.8 2038.8,982.6 2039.9,982.9 2040.9,984.3 2042.0,983.6 2043.0,985.5 2044.1,983.6 2045.1,986.0 2046.2,985.3 2047.2,985.4 2048.3,986.7 2049.4,986.4 2050.4,981.7 2051.4,982.2 2052.5,979.0 2053.6,977.7 2054.6,973.2 2055.6,973.3 2056.7,970.0 2057.7,964.0 2058.7,958.0 2059.7,952.0 2060.7,946.0 2061.7,940.0 2062.7,941.8 2063.7,940.6 2064.7,940.9 2065.7,943.8 2066.7,941.7 2067.7,949.4 2068.7,957.0 2069.7,964.7 2070.7,972.3 2071.7,980.0 2072.7,980.8 2073.8,980.8 2074.8,981.2 2075.8,982.9 2076.9,983.5 2077.9,983.9 2079.0,986.1 2080.0,985.0 2081.0,984.6 2082.0,986.2 2083.0,988.2 2084.0,983.9 2085.0,987.8 2086.0,989.4 2087.0,983.9 2088.0,984.5 2089.0,986.7 2090.1,982.0 2091.2,977.8 2092.3,978.3 2093.3,979.6 2094.3,976.0 2095.3,980.7 2096.3,982.9 2097.3,977.9 2098.3,980.7 2099.3,978.3 2100.3,983.7 2101.3,981.5 2102.3,983.3 2103.4,983.7 2104.5,985.1 2105.7,986.8 2106.8,986.0 2107.9,987.5 2109.0,988.3 2110.1,1001.1 2111.2,1013.9 2112.3,1026.7 2113.4,1027.9 2114.6,1031.3 2115.7,1033.3 2116.8,1022.2 2117.9,1011.1 2119.0,1000.0 2120.0,997.6 2121.0,999.5 2122.0,995.5 2123.0,997.8 2124.0,1001.8 2125.0,998.2 2126.0,995.4 2127.0,997.8 2128.0,995.3 2129.0,996.7 2130.0,995.2 2131.0,998.4 2132.0,1002.5 2133.0,1003.4 2134.0,1004.0 2135.0,1004.0 2136.0,1005.3 2137.0,1011.1 2138.0,1010.6 2139.0,1011.7 2140.0,1010.3 2141.0,1008.6 2142.0,1010.2 2143.0,1017.5 2144.0,1011.3 2145.0,1013.5 2146.0,1014.4 2147.0,1014.1 2148.0,1014.2 2149.0,1015.0 2150.1,1016.4 2151.2,1020.9 2152.3,1026.7 2153.3,1027.9 2154.3,1021.7 2155.3,1022.7 2156.3,1016.3 2157.3,1017.0 2158.3,1016.1 2159.3,1015.7 2160.3,1010.0 2161.3,1011.2 2162.3,1008.3 2163.3,1009.6 2164.4,1008.3 2165.4,1011.1 2166.4,1009.3 2167.5,1010.1 2168.5,1012.1 2169.5,1007.9 2170.5,1013.3 2171.6,1012.3 2172.6,1012.1 2173.6,1014.6 2174.7,1017.4 2175.7,1016.7 2176.7,1017.3 2177.7,1021.6 2178.7,1018.6 2179.7,1019.7 2180.7,1026.1 2181.7,1025.4 2182.7,1027.7 2183.7,1025.9 2184.7,1030.1 2185.7,1030.0 2186.7,1029.5 2187.8,1029.3 2188.8,1027.2 2189.8,1028.4 2190.9,1024.1 2191.9,1022.6 2193.0,1020.8 2194.0,1024.6 2195.0,1020.2 2196.1,1018.7 2197.1,1018.0 2198.2,1017.9 2199.2,1015.5 2200.2,1016.4 2201.3,1014.8 2202.3,1015.0 2203.4,1016.5 2204.5,1018.3 2205.7,1022.6 2206.8,1024.2 2207.9,1027.7 2209.0,1030.0 2210.0,1030.6 2211.0,1031.0 2212.0,1026.6 2213.0,1029.7 2214.0,1029.4 2215.0,1032.4 2216.0,1028.4 2217.0,1030.1 2218.0,1031.0 2219.0,1031.7 2220.0,1029.9 2221.0,1031.1 2222.0,1027.4 2223.0,1028.8 2224.0,1023.2 2225.0,1021.4 2226.0,1025.7 2227.0,1023.1 2228.0,1022.0 2229.0,1020.0 2230.1,1021.9 2231.2,1024.2 2232.3,1022.8 2233.5,1028.4 2234.6,1027.4 2235.7,1030.0 2236.8,1033.7 2237.9,1034.1 2239.0,1032.3 2240.1,1035.5 2241.2,1041.8 2242.3,1041.7 2243.3,1040.6 2244.4,1039.2 2245.4,1039.4 2246.4,1037.3 2247.5,1036.2 2248.5,1036.5 2249.5,1035.7 2250.5,1037.2 2251.6,1033.7 2252.6,1036.1 2253.6,1035.0 2254.7,1034.0 2255.7,1030.0 2256.8,1033.0 2257.9,1032.5 2259.0,1033.6 2260.1,1034.2 2261.2,1034.3 2262.3,1036.7 2263.3,1036.9 2264.4,1036.1 2265.4,1040.6 2266.4,1038.9 2267.5,1037.4 2268.5,1035.1 2269.6,1038.7 2270.6,1038.4 2271.6,1037.4 2272.7,1037.7 2273.7,1040.0" fill="none" stroke="#008a00" stroke-width="6.0" stroke-linejoin="round" stroke-linecap="butt"/>
<polyline points="167.3,1186.7 168.4,1184.8 169.5,1184.4 170.6,1182.9 171.7,1181.7 172.8,1183.0 173.9,1182.8 175.0,1183.3 176.1,1184.3 177.2,1184.5 178.3,1185.0 179.4,1186.3 180.4,1187.3 181.5,1188.4 182.6,1190.3 183.6,1191.3 184.7,1192.8 185.7,1193.4 186.8,1194.7 187.9,1195.6 188.9,1197.4 190.0,1198.3 191.0,1199.1 192.0,1200.8 193.0,1202.1 194.0,1203.4 195.0,1203.9 196.0,1205.6 197.0,1206.3 198.0,1207.4 199.0,1208.4 200.0,1210.0 201.0,1211.0 202.0,1211.8 203.1,1211.7 204.1,1212.3 205.1,1213.1 206.1,1214.6 207.2,1214.8 208.2,1214.9 209.2,1215.2 210.2,1216.2 211.3,1217.4 212.3,1218.2 213.3,1218.3 214.3,1218.9 215.4,1219.4 216.4,1220.1 217.4,1220.3 218.5,1221.8 219.5,1221.9 220.5,1223.1 221.5,1223.0 222.6,1223.7 223.6,1224.8 224.6,1225.2 225.7,1226.3 226.7,1226.7 227.7,1227.0 228.7,1227.0 229.7,1227.9 230.7,1228.3 231.7,1227.8 232.7,1229.2 233.7,1229.2 234.7,1229.6 235.7,1229.1 236.7,1230.0 237.7,1229.8 238.7,1230.0 239.7,1230.4 240.8,1229.7 241.8,1229.9 242.8,1229.6 243.8,1230.1 244.8,1230.3 245.8,1229.8 246.8,1230.1 247.8,1230.5 248.9,1230.8 249.9,1230.6 250.9,1230.3 251.9,1230.1 252.9,1230.2 253.9,1230.3 254.9,1230.6 255.9,1230.6 257.0,1231.1 258.0,1230.7 259.0,1230.3 260.0,1230.7 261.0,1231.2 262.1,1231.1 263.1,1231.0 264.1,1230.8 265.1,1230.5 266.2,1230.9 267.2,1231.5 268.2,1231.1 269.2,1231.0 270.3,1231.5 271.3,1231.6 272.3,1231.8 273.4,1231.9 274.4,1232.2 275.4,1231.6 276.4,1232.2 277.5,1231.7 278.5,1232.3 279.5,1232.2 280.5,1232.3 281.6,1232.6 282.6,1232.4 283.6,1232.8 284.6,1232.8 285.7,1232.7 286.7,1232.7 287.7,1232.5 288.7,1232.5 289.7,1232.5 290.8,1232.6 291.8,1232.7 292.8,1233.6 293.8,1232.9 294.8,1232.9 295.8,1232.4 296.8,1232.5 297.8,1232.6 298.9,1232.8 299.9,1232.4 300.9,1233.2 301.9,1232.5 302.9,1233.0 303.9,1232.0 304.9,1232.7 305.9,1232.8 307.0,1232.8 308.0,1232.9 309.0,1232.8 310.0,1232.7 311.0,1232.8 312.0,1232.2 313.0,1232.5 314.0,1232.1 315.0,1233.0 316.1,1232.9 317.1,1232.8 318.1,1232.6 319.1,1232.7 320.1,1233.4 321.1,1233.4 322.1,1232.9 323.1,1233.3 324.1,1232.5 325.1,1232.4 326.1,1232.8 327.2,1232.7 328.2,1232.9 329.2,1233.1 330.2,1234.0 331.2,1232.9 332.2,1233.1 333.2,1233.2 334.2,1233.1 335.2,1233.4 336.2,1233.7 337.2,1232.8 338.3,1233.3 339.3,1233.1 340.3,1233.4 341.3,1232.8 342.3,1232.8 343.3,1233.3 344.3,1232.6 345.3,1233.5 346.3,1233.4 347.3,1233.3 348.4,1232.6 349.4,1233.2 350.4,1233.1 351.4,1232.9 352.4,1233.0 353.4,1233.5 354.4,1233.5 355.4,1233.3 356.5,1233.5 357.5,1233.1 358.5,1233.3 359.5,1233.3 360.5,1233.5 361.5,1233.3 362.5,1233.3 363.5,1233.3 364.6,1233.1 365.6,1234.0 366.6,1233.5 367.6,1233.4 368.6,1234.0 369.6,1233.7 370.6,1232.8 371.6,1233.5 372.7,1233.6 373.7,1233.9 374.7,1233.7 375.7,1233.5 376.7,1233.3 377.7,1232.9 378.8,1233.0 379.8,1233.3 380.9,1233.3 381.9,1232.8 382.9,1233.0 384.0,1232.9 385.0,1233.0 386.0,1233.1 387.1,1232.8 388.1,1232.5 389.1,1233.2 390.2,1233.3 391.2,1232.7 392.3,1233.0 393.3,1232.7 394.3,1232.7 395.3,1232.6 396.3,1232.4 397.3,1231.9 398.3,1232.2 399.3,1232.2 400.3,1231.5 401.3,1232.2 402.3,1232.1 403.3,1231.9 404.3,1231.8 405.3,1231.3 406.3,1230.8 407.3,1230.6 408.3,1230.4 409.3,1230.6 410.3,1230.4 411.3,1230.5 412.3,1229.5 413.3,1230.0 414.3,1230.6 415.3,1230.5 416.3,1229.7 417.3,1229.9 418.3,1229.7 419.3,1229.6 420.3,1229.3 421.3,1229.3 422.3,1229.0 423.3,1229.2 424.3,1229.1 425.3,1229.1 426.3,1228.6 427.3,1228.8 428.3,1228.7 429.3,1228.8 430.3,1228.2 431.3,1228.6 432.3,1228.7 433.3,1228.3 434.3,1228.2 435.4,1227.7 436.4,1227.4 437.4,1227.2 438.5,1227.2 439.5,1227.2 440.5,1226.5 441.5,1226.1 442.6,1226.1 443.6,1225.8 444.6,1225.2 445.7,1225.0 446.7,1225.0 447.7,1224.5 448.7,1224.2 449.8,1223.1 450.8,1222.6 451.8,1222.6 452.8,1221.5 453.9,1221.4 454.9,1221.0 455.9,1220.3 456.9,1219.5 458.0,1219.3 459.0,1218.7 460.0,1218.3 461.0,1218.1 462.1,1217.4 463.1,1217.7 464.2,1216.5 465.2,1216.7 466.3,1216.4 467.3,1216.4 468.4,1215.6 469.4,1215.7 470.4,1215.0 471.5,1215.1 472.5,1215.1 473.6,1214.1 474.6,1214.1 475.7,1213.3 476.7,1213.3 477.7,1213.3 478.8,1213.0 479.8,1212.4 480.9,1211.7 481.9,1211.9 482.9,1211.8 484.0,1211.4 485.0,1211.0 486.0,1209.9 487.1,1210.0 488.1,1210.3 489.1,1209.2 490.2,1209.6 491.2,1209.5 492.3,1208.8 493.3,1208.3 494.3,1208.5 495.4,1208.0 496.4,1207.6 497.5,1207.9 498.5,1207.7 499.6,1207.7 500.6,1207.8 501.6,1207.5 502.7,1207.5 503.7,1207.4 504.8,1207.2 505.8,1207.7 506.9,1207.1 507.9,1206.9 509.0,1206.7 510.0,1206.7 511.0,1206.3 512.1,1206.7 513.1,1206.1 514.2,1205.5 515.2,1205.5 516.3,1205.4 517.3,1205.1 518.4,1205.3 519.4,1204.4 520.4,1204.7 521.5,1204.4 522.5,1203.8 523.6,1204.0 524.6,1203.7 525.7,1203.7 526.7,1203.3 527.7,1203.0 528.8,1203.0 529.8,1202.2 530.9,1202.1 531.9,1202.5 532.9,1202.4 534.0,1201.9 535.0,1201.5 536.0,1201.8 537.1,1200.6 538.1,1200.8 539.1,1201.0 540.2,1200.8 541.2,1200.1 542.3,1199.6 543.3,1200.0 544.3,1200.3 545.4,1199.8 546.4,1199.3 547.5,1199.4 548.5,1199.6 549.6,1198.4 550.6,1199.3 551.6,1199.1 552.7,1198.1 553.7,1198.8 554.8,1197.9 555.8,1198.6 556.9,1198.3 557.9,1198.7 559.0,1197.7 560.0,1197.7 561.0,1197.4 562.1,1197.5 563.1,1196.7 564.2,1196.4 565.2,1196.2 566.3,1196.0 567.3,1195.5 568.4,1195.6 569.4,1195.4 570.4,1195.0 571.5,1195.2 572.5,1194.3 573.6,1194.5 574.6,1193.7 575.7,1193.8 576.7,1193.3 577.7,1192.6 578.8,1193.2 579.8,1192.9 580.9,1192.8 581.9,1192.6 582.9,1192.6 584.0,1192.4 585.0,1191.8 586.0,1192.2 587.1,1192.1 588.1,1192.0 589.1,1191.8 590.2,1192.0 591.2,1192.1 592.3,1191.7 593.3,1191.7 594.3,1191.3 595.4,1191.7 596.4,1191.4 597.5,1191.1 598.5,1191.0 599.6,1190.3 600.6,1190.2 601.6,1190.3 602.7,1189.6 603.7,1189.5 604.8,1189.5 605.8,1189.3 606.9,1188.9 607.9,1189.0 609.0,1188.5 610.0,1188.3 611.0,1188.3 612.1,1188.2 613.1,1187.9 614.2,1187.7 615.2,1186.9 616.3,1186.7 617.3,1186.7 618.4,1186.8 619.4,1186.9 620.4,1185.9 621.5,1186.1 622.5,1185.6 623.6,1185.4 624.6,1185.3 625.7,1185.4 626.7,1185.0 627.7,1185.0 628.8,1185.1 629.8,1184.4 630.9,1184.8 631.9,1184.7 632.9,1184.4 634.0,1184.4 635.0,1184.0 636.0,1183.7 637.1,1183.8 638.1,1183.6 639.1,1184.6 640.2,1183.5 641.2,1184.0 642.3,1183.5 643.3,1183.3 644.3,1183.2 645.4,1183.1 646.4,1182.4 647.5,1182.7 648.5,1182.4 649.6,1181.6 650.6,1182.0 651.6,1181.8 652.7,1181.6 653.7,1181.7 654.8,1180.9 655.8,1181.0 656.9,1180.8 657.9,1180.1 659.0,1180.6 660.0,1180.0 661.0,1179.4 662.1,1179.2 663.1,1179.5 664.2,1178.8 665.2,1178.9 666.3,1178.3 667.3,1178.6 668.4,1178.0 669.4,1178.2 670.4,1177.5 671.5,1177.9 672.5,1177.4 673.6,1177.3 674.6,1177.1 675.7,1176.9 676.7,1176.7 677.7,1176.0 678.8,1175.3 679.8,1175.8 680.9,1175.2 681.9,1175.0 682.9,1175.0 684.0,1173.9 685.0,1174.0 686.0,1173.7 687.1,1173.3 688.1,1173.4 689.1,1172.9 690.2,1172.4 691.2,1172.0 692.3,1172.3 693.3,1171.7 694.3,1171.3 695.4,1171.5 696.4,1171.2 697.5,1170.3 698.5,1170.3 699.6,1170.4 700.6,1170.3 701.6,1170.2 702.7,1170.0 703.7,1169.9 704.8,1169.3 705.8,1169.1 706.9,1169.2 707.9,1168.6 709.0,1168.8 710.0,1168.3 711.0,1167.6 712.1,1168.1 713.1,1167.6 714.2,1166.9 715.2,1167.6 716.3,1167.2 717.3,1166.9 718.4,1166.3 719.4,1166.3 720.4,1166.7 721.5,1165.8 722.5,1164.8 723.6,1165.4 724.6,1165.1 725.7,1165.2 726.7,1165.0 727.7,1164.7 728.8,1164.3 729.8,1164.1 730.9,1164.5 731.9,1163.5 732.9,1164.3 734.0,1163.4 735.0,1163.0 736.0,1163.4 737.1,1163.1 738.1,1162.4 739.1,1162.7 740.2,1161.8 741.2,1161.8 742.3,1162.2 743.3,1161.7 744.3,1161.5 745.4,1161.0 746.4,1161.4 747.5,1161.4 748.5,1160.9 749.6,1160.3 750.6,1160.5 751.6,1160.6 752.7,1160.6 753.7,1160.8 754.8,1160.0 755.8,1159.8 756.9,1159.7 757.9,1160.0 759.0,1159.2 760.0,1159.3 761.0,1159.7 762.0,1158.5 763.0,1159.5 764.0,1159.1 765.0,1159.4 766.0,1159.5 767.0,1158.9 768.0,1159.3 769.0,1159.4 770.0,1159.5 771.0,1159.0 772.0,1159.0 773.0,1158.7 774.0,1160.1 775.0,1159.2 776.0,1159.2 777.0,1158.9 778.0,1159.6 779.0,1159.1 780.0,1159.3" fill="none" stroke="#ff0000" stroke-width="5.8" stroke-linejoin="round" stroke-linecap="butt"/>
<polyline points="816.7,1166.7 817.7,1167.1 818.8,1166.7 819.8,1166.3 820.9,1166.4 821.9,1165.6 822.9,1165.7 824.0,1165.4 825.0,1165.5 826.0,1165.2 827.0,1165.7 828.0,1165.8 829.1,1166.4 830.1,1164.9 831.1,1165.9 832.1,1166.0 833.1,1166.2 834.1,1166.6 835.2,1166.8 836.2,1166.7 837.2,1166.7 838.2,1167.1 839.2,1167.2 840.2,1166.5 841.3,1167.2 842.3,1166.9 843.3,1167.5 844.3,1167.3 845.3,1168.0 846.3,1168.2 847.3,1168.4 848.3,1168.2 849.3,1168.7 850.3,1168.7 851.3,1169.3 852.3,1169.6 853.3,1170.2 854.3,1170.3 855.3,1169.7 856.3,1170.1 857.3,1170.1 858.3,1170.8 859.3,1171.6 860.3,1171.3 861.3,1170.5 862.3,1171.0 863.3,1171.7 864.3,1171.5 865.4,1172.3 866.4,1172.3 867.5,1172.6 868.5,1173.4 869.6,1172.6 870.6,1172.8 871.6,1174.0 872.7,1173.7 873.7,1173.5 874.8,1173.3 875.8,1173.6 876.9,1173.5 877.9,1174.6 879.0,1174.8 880.0,1175.0 881.0,1175.7 882.0,1175.6 883.0,1175.8 884.0,1176.1 885.0,1177.3 886.0,1176.4 887.0,1177.4 888.0,1177.7 889.0,1178.2 890.0,1178.2 891.0,1178.9 892.0,1179.3 893.0,1179.3 894.0,1179.5 895.0,1180.0 896.0,1180.0 897.0,1180.6 898.0,1180.9 899.0,1181.4 900.0,1181.7 901.0,1182.7 902.1,1183.2 903.1,1183.1 904.2,1184.0 905.2,1184.4 906.3,1185.1 907.3,1185.3 908.4,1185.9 909.4,1186.2 910.4,1186.6 911.5,1187.7 912.5,1188.4 913.6,1188.7 914.6,1189.1 915.7,1189.6 916.7,1190.0 917.7,1190.3 918.7,1190.3 919.7,1191.7 920.7,1192.0 921.7,1192.2 922.7,1192.6 923.7,1193.9 924.7,1193.3 925.7,1195.0 926.7,1195.1 927.7,1196.2 928.7,1195.6 929.7,1196.3 930.7,1196.6 931.7,1197.3 932.7,1197.3 933.7,1197.1 934.7,1196.8 935.7,1197.3 936.7,1196.6 937.7,1196.6 938.7,1196.9 939.7,1196.4 940.7,1196.4 941.7,1196.6 942.7,1196.2 943.7,1195.8 944.7,1196.1 945.7,1196.0 946.7,1196.0 947.7,1196.6 948.8,1195.7 949.8,1196.5 950.9,1195.9 951.9,1196.1 952.9,1196.1 954.0,1196.4 955.0,1196.7 956.0,1197.0 957.1,1196.2 958.1,1196.9 959.1,1196.9 960.2,1196.9 961.2,1196.3 962.3,1197.0 963.3,1196.7 964.3,1196.4 965.4,1196.4 966.4,1196.0 967.5,1196.1 968.5,1196.0 969.6,1195.8 970.6,1195.1 971.6,1195.3 972.7,1195.3 973.7,1194.2 974.8,1194.9 975.8,1193.7 976.9,1194.1 977.9,1193.9 979.0,1194.0 980.0,1193.3 981.0,1192.9 982.0,1192.1 983.1,1191.5 984.1,1190.8 985.1,1191.0 986.1,1190.2 987.2,1189.5 988.2,1189.4 989.2,1188.5 990.2,1188.1 991.3,1187.6 992.3,1187.8 993.3,1186.7 994.3,1186.3 995.4,1184.8 996.4,1183.5 997.4,1183.2 998.5,1182.2 999.5,1181.4 1000.5,1180.6 1001.5,1179.4 1002.6,1178.9 1003.6,1178.0 1004.6,1176.9 1005.7,1175.8 1006.7,1175.0 1007.7,1173.0 1008.7,1171.6 1009.7,1169.1 1010.7,1167.6 1011.7,1165.6 1012.7,1163.5 1013.7,1162.4 1014.7,1160.4 1015.7,1158.5 1016.7,1156.7 1017.7,1155.2 1018.7,1152.6 1019.8,1151.3 1020.8,1149.6 1021.8,1148.0 1022.8,1145.5 1023.9,1144.4 1024.9,1142.4 1025.9,1141.0 1026.9,1139.1 1028.0,1137.1 1029.0,1135.9 1030.0,1133.3 1031.0,1131.0 1032.0,1128.5 1033.0,1126.2 1034.0,1123.7 1035.0,1121.6 1036.0,1118.7 1037.0,1117.0 1038.0,1114.8 1039.0,1112.7 1040.0,1110.0 1041.0,1107.7 1042.0,1106.1 1043.0,1103.3 1044.0,1101.3 1045.0,1098.5 1046.0,1096.7 1047.0,1094.5 1048.0,1093.2 1049.0,1090.7 1050.0,1088.3 1051.0,1085.2 1052.1,1083.1 1053.1,1080.4 1054.2,1077.4 1055.2,1074.8 1056.2,1072.0 1057.3,1069.2 1058.3,1066.7 1059.3,1062.3 1060.4,1059.2 1061.5,1055.9 1062.5,1052.2 1063.5,1047.9 1064.6,1043.9 1065.7,1040.4 1066.7,1036.7 1067.7,1034.5 1068.8,1031.8 1069.8,1029.0 1070.8,1026.8 1071.9,1024.1 1072.9,1021.9 1074.0,1019.1 1075.0,1016.7 1076.0,1015.6 1077.1,1015.5 1078.1,1015.1 1079.2,1013.8 1080.2,1013.5 1081.2,1013.2 1082.3,1012.2 1083.3,1011.7 1084.3,1011.7 1085.4,1012.8 1086.5,1012.6 1087.5,1012.9 1088.5,1012.4 1089.6,1013.5 1090.7,1012.5 1091.7,1013.3 1092.7,1015.2 1093.8,1017.7 1094.8,1020.0 1095.8,1021.3 1096.9,1023.5 1097.9,1025.9 1099.0,1027.3 1100.0,1030.0 1101.1,1033.0 1102.2,1035.8 1103.3,1038.2 1104.5,1041.3 1105.6,1044.2 1106.7,1046.7 1107.8,1051.1 1108.9,1055.6 1110.0,1060.0 1111.1,1064.4 1112.2,1068.9 1113.3,1073.3 1114.3,1075.7 1115.3,1078.2 1116.3,1080.8 1117.3,1082.5 1118.3,1085.1 1119.3,1087.2 1120.3,1090.0 1121.3,1091.9 1122.3,1094.5 1123.3,1096.7 1124.4,1099.8 1125.5,1102.8 1126.7,1106.4 1127.8,1108.9 1128.9,1112.4 1130.0,1115.0 1131.0,1116.1 1132.0,1117.1 1133.0,1117.4 1134.0,1118.6 1135.0,1119.4 1136.0,1119.8 1137.0,1120.9 1138.0,1121.6 1139.0,1122.5 1140.0,1123.3 1141.0,1123.9 1142.0,1123.4 1143.0,1123.2 1144.0,1123.4 1145.0,1124.0 1146.0,1124.1 1147.0,1124.5 1148.0,1124.9 1149.0,1125.4 1150.0,1125.0 1151.0,1124.1 1152.1,1123.1 1153.1,1121.6 1154.2,1121.0 1155.2,1120.3 1156.2,1119.2 1157.3,1117.1 1158.3,1116.7 1159.3,1114.9 1160.4,1113.1 1161.5,1110.7 1162.5,1107.8 1163.5,1106.2 1164.6,1104.4 1165.7,1102.2 1166.7,1100.0 1167.7,1097.7 1168.7,1095.7 1169.7,1094.3 1170.7,1091.6 1171.7,1090.5 1172.7,1088.0 1173.7,1086.1 1174.7,1083.6 1175.7,1081.8 1176.7,1080.0 1177.7,1078.1 1178.7,1075.2 1179.7,1074.2 1180.7,1070.8 1181.7,1068.7 1182.7,1067.0 1183.7,1065.0 1184.7,1062.9 1185.7,1060.3 1186.7,1058.3 1187.7,1058.0 1188.7,1057.7 1189.8,1057.3 1190.8,1056.4 1191.8,1057.4 1192.8,1056.9 1193.9,1056.6 1194.9,1056.1 1195.9,1056.1 1196.9,1055.8 1198.0,1055.5 1199.0,1055.6 1200.0,1055.0 1201.0,1054.0 1202.0,1054.3 1203.1,1053.5 1204.1,1053.4 1205.1,1053.6 1206.1,1052.3 1207.2,1052.3 1208.2,1051.7 1209.2,1051.9 1210.2,1050.8 1211.3,1050.2 1212.3,1050.6 1213.3,1050.0 1214.3,1049.6 1215.3,1049.4 1216.3,1049.6 1217.3,1048.6 1218.3,1048.5 1219.3,1048.4 1220.3,1048.2 1221.3,1047.7 1222.3,1047.9 1223.3,1047.3 1224.3,1048.5 1225.3,1048.0 1226.3,1049.2 1227.3,1048.4 1228.3,1050.0 1229.3,1049.8 1230.3,1050.4 1231.3,1050.7 1232.3,1051.0 1233.3,1051.7 1234.3,1051.6 1235.3,1052.2 1236.3,1053.1 1237.3,1053.4 1238.3,1053.2 1239.3,1053.5 1240.3,1053.8 1241.3,1053.9 1242.3,1055.3 1243.3,1055.0 1244.4,1060.2 1245.6,1065.0 1246.7,1070.0 1247.8,1070.1 1248.9,1070.2 1250.0,1071.3 1251.1,1071.4 1252.2,1071.1 1253.3,1071.7 1254.4,1072.9 1255.5,1073.0 1256.7,1074.4 1257.8,1074.7 1258.9,1075.7 1260.0,1076.7 1261.1,1078.8 1262.2,1080.7 1263.3,1082.8 1264.5,1084.2 1265.6,1086.9 1266.7,1088.3 1267.7,1089.7 1268.7,1090.1 1269.8,1091.2 1270.8,1091.6 1271.8,1092.7 1272.8,1093.3 1273.9,1094.6 1274.9,1095.6 1275.9,1096.9 1276.9,1097.6 1278.0,1098.5 1279.0,1099.0 1280.0,1100.0 1281.0,1100.6 1282.0,1101.2 1283.1,1102.0 1284.1,1101.9 1285.1,1103.5 1286.1,1103.3 1287.2,1104.3 1288.2,1105.1 1289.2,1105.6 1290.2,1106.9 1291.3,1107.0 1292.3,1108.2 1293.3,1108.3 1294.3,1108.7 1295.4,1108.1 1296.4,1108.4 1297.4,1108.7 1298.5,1108.2 1299.5,1108.3 1300.5,1108.1 1301.5,1108.3 1302.6,1108.2 1303.6,1108.3 1304.6,1108.6 1305.7,1108.8 1306.7,1108.3 1307.7,1107.6 1308.7,1106.8 1309.8,1106.3 1310.8,1105.1 1311.8,1104.1 1312.8,1104.1 1313.9,1102.6 1314.9,1102.5 1315.9,1101.1 1316.9,1101.2 1318.0,1099.5 1319.0,1099.4 1320.0,1098.3 1321.0,1097.4 1322.0,1095.2 1323.1,1094.6 1324.1,1092.4 1325.1,1090.7 1326.1,1090.1 1327.2,1088.7 1328.2,1087.0 1329.2,1084.8 1330.2,1084.2 1331.3,1082.7 1332.3,1081.3 1333.3,1080.0 1334.3,1079.3 1335.4,1078.1 1336.4,1077.9 1337.5,1078.1 1338.5,1077.4 1339.6,1076.1 1340.6,1075.4 1341.7,1075.1 1342.7,1074.7 1343.7,1074.0 1344.8,1072.7 1345.8,1072.6 1346.9,1071.9 1347.9,1071.7 1349.0,1071.0 1350.0,1070.0 1351.0,1069.7 1352.1,1069.4 1353.1,1068.3 1354.2,1068.4 1355.2,1067.3 1356.3,1067.0 1357.3,1066.7 1358.3,1065.5 1359.4,1065.1 1360.4,1064.2 1361.5,1064.3 1362.5,1063.8 1363.6,1063.1 1364.6,1062.9 1365.7,1061.5 1366.7,1061.7 1367.7,1061.5 1368.8,1061.3 1369.8,1061.0 1370.8,1061.1 1371.9,1061.2 1372.9,1060.3 1374.0,1059.9 1375.0,1059.8 1376.0,1059.8 1377.1,1059.8 1378.1,1059.1 1379.2,1059.5 1380.2,1058.6 1381.2,1059.0 1382.3,1058.7 1383.3,1058.3 1384.3,1058.4 1385.4,1058.8 1386.4,1057.9 1387.5,1057.8 1388.5,1058.0 1389.6,1058.0 1390.6,1057.2 1391.7,1057.6 1392.7,1057.2 1393.7,1057.5 1394.8,1057.7 1395.8,1057.1 1396.9,1057.0 1397.9,1057.0 1399.0,1055.8 1400.0,1056.7 1401.0,1056.1 1402.0,1055.2 1403.0,1054.2 1404.0,1053.2 1405.0,1052.3 1406.0,1051.6 1407.0,1051.2 1408.0,1049.9 1409.0,1049.6 1410.0,1048.3 1411.0,1043.1 1412.0,1039.5 1413.0,1035.4 1414.0,1031.0 1415.0,1026.7 1416.1,1018.3 1417.2,1010.9 1418.3,1003.3 1419.5,1020.0 1420.7,1036.7 1421.7,1037.7 1422.7,1037.4 1423.7,1038.0 1424.7,1038.5 1425.7,1039.3 1426.7,1040.0 1427.7,1040.3 1428.8,1040.4 1429.8,1039.6 1430.8,1040.9 1431.9,1040.3 1432.9,1040.4 1434.0,1041.3 1435.0,1040.8 1436.0,1040.5 1437.1,1040.8 1438.1,1040.9 1439.2,1040.9 1440.2,1041.3 1441.2,1041.8 1442.3,1041.7 1443.3,1041.7 1444.3,1040.8 1445.4,1041.8 1446.4,1040.1 1447.5,1040.1 1448.5,1039.6 1449.6,1039.4 1450.6,1038.7 1451.7,1038.5 1452.7,1038.6 1453.7,1037.5 1454.8,1036.7 1455.8,1036.8 1456.9,1036.0 1457.9,1035.7 1459.0,1035.5 1460.0,1035.0 1461.0,1034.9 1462.0,1034.6 1463.0,1034.8 1464.0,1034.3 1465.0,1033.7 1466.0,1034.3 1467.0,1033.7 1468.0,1034.0 1469.0,1033.3 1470.0,1033.3 1471.0,1032.7 1472.0,1031.9 1473.1,1030.1 1474.1,1029.7 1475.1,1029.1 1476.1,1029.2 1477.2,1027.3 1478.2,1027.5 1479.2,1026.7 1480.2,1025.8 1481.3,1025.1 1482.3,1023.9 1483.3,1023.3 1484.3,1022.1 1485.3,1021.1 1486.3,1020.0 1487.3,1018.9 1488.3,1017.4 1489.3,1016.1 1490.3,1015.0 1491.3,1014.2 1492.3,1012.3 1493.3,1011.7 1494.3,1009.8 1495.3,1008.6 1496.3,1007.0 1497.3,1005.6 1498.3,1003.3 1499.3,1002.6 1500.3,1001.1 1501.3,1000.0 1502.3,997.5 1503.3,996.7 1504.3,994.9 1505.3,993.5 1506.3,991.9 1507.3,990.4 1508.3,988.7 1509.3,986.3 1510.3,985.2 1511.3,983.2 1512.3,981.4 1513.3,980.0 1514.3,979.2 1515.4,977.2 1516.4,975.9 1517.4,974.7 1518.5,973.3 1519.5,972.6 1520.5,971.1 1521.5,970.2 1522.6,968.6 1523.6,966.9 1524.6,966.2 1525.7,964.4 1526.7,963.3 1527.7,960.8 1528.7,958.6 1529.7,956.3 1530.7,954.4 1531.7,951.4 1532.7,949.4 1533.7,947.0 1534.7,944.2 1535.7,942.0 1536.7,940.0 1537.7,938.6 1538.7,937.6 1539.8,936.3 1540.8,935.0 1541.8,933.6 1542.8,932.1 1543.9,931.2 1544.9,929.4 1545.9,928.0 1546.9,927.0 1548.0,925.4 1549.0,924.4 1550.0,923.3 1551.0,922.0 1552.0,921.1 1553.0,920.3 1554.0,919.0 1555.0,918.2 1556.0,916.7 1557.0,916.3 1558.0,915.0 1559.0,914.4 1560.0,913.3 1561.0,911.3 1562.0,911.0 1563.1,910.3 1564.1,908.4 1565.1,908.1 1566.1,907.2 1567.2,906.2 1568.2,904.6 1569.2,904.2 1570.2,903.1 1571.3,901.7 1572.3,901.3 1573.3,900.0 1574.3,899.5 1575.4,899.1 1576.4,898.5 1577.5,898.4 1578.5,897.8 1579.6,897.6 1580.6,897.0 1581.7,896.1 1582.7,895.8 1583.7,895.7 1584.8,894.9 1585.8,894.7 1586.9,894.2 1587.9,893.6 1589.0,892.4 1590.0,892.7 1591.0,893.0 1592.0,893.3 1593.1,893.5 1594.1,893.5 1595.1,894.4 1596.1,894.2 1597.2,894.3 1598.2,894.5 1599.2,895.1 1600.2,894.9 1601.3,895.2 1602.3,896.4 1603.3,896.0 1604.3,896.7 1605.4,896.9 1606.4,897.2 1607.4,897.2 1608.5,896.7 1609.5,897.9 1610.5,898.2 1611.5,898.2 1612.6,897.6 1613.6,899.0 1614.6,899.3 1615.7,898.9 1616.7,899.3 1617.7,899.3 1618.7,899.5 1619.8,899.2 1620.8,899.6 1621.8,899.2 1622.8,899.4 1623.9,899.2 1624.9,898.6 1625.9,898.8 1626.9,900.1 1628.0,899.1 1629.0,899.5 1630.0,899.0 1631.0,899.8 1632.0,900.5 1633.1,900.6 1634.1,900.6 1635.1,901.3 1636.1,901.1 1637.2,902.2 1638.2,903.0 1639.2,902.4 1640.2,903.7 1641.3,904.4 1642.3,905.0 1643.3,905.0 1644.3,905.3 1645.4,906.1 1646.4,906.3 1647.4,907.2 1648.5,908.4 1649.5,909.5 1650.5,909.1 1651.5,910.6 1652.6,910.9 1653.6,911.2 1654.6,912.8 1655.7,911.8 1656.7,913.3 1657.7,913.6 1658.8,914.0 1659.8,915.0 1660.8,915.2 1661.9,915.6 1662.9,915.2 1664.0,915.8 1665.0,916.3 1666.0,916.3 1667.1,916.5 1668.1,916.7 1669.2,916.9 1670.2,916.9 1671.2,918.3 1672.3,917.8 1673.3,918.3 1674.3,918.0 1675.4,919.2 1676.4,919.4 1677.4,919.9 1678.5,920.8 1679.5,920.6 1680.5,920.9 1681.5,921.1 1682.6,921.8 1683.6,922.0 1684.6,922.6 1685.7,924.0 1686.7,923.3 1687.7,924.1 1688.7,924.3 1689.8,925.9 1690.8,926.2 1691.8,926.8 1692.8,927.4 1693.9,928.1 1694.9,928.7 1695.9,929.6 1696.9,930.1 1698.0,930.9 1699.0,930.9 1700.0,931.7 1701.0,932.5 1702.0,932.8 1703.1,934.6 1704.1,935.3 1705.1,935.3 1706.1,936.7 1707.2,938.6 1708.2,938.6 1709.2,938.0 1710.2,939.3 1711.3,940.5 1712.3,940.9 1713.3,941.7 1714.3,942.8 1715.4,944.2 1716.4,944.6 1717.4,944.6 1718.5,946.6 1719.5,947.0 1720.5,948.0 1721.5,948.5 1722.6,948.9 1723.6,949.9 1724.6,951.3 1725.7,951.8 1726.7,953.3 1727.7,951.9 1728.8,954.3 1729.8,953.0 1730.8,953.4 1731.8,954.3 1732.8,952.7 1733.9,955.1 1734.9,954.0 1735.9,955.0 1737.0,954.4 1738.0,955.0 1739.0,955.0 1740.1,955.5 1741.2,955.9 1742.3,955.3 1743.4,956.0 1744.5,957.3 1745.6,958.7 1746.7,958.3 1747.7,959.3 1748.7,961.2 1749.7,962.3 1750.7,963.8 1751.7,965.4 1752.7,965.2 1753.7,967.6 1754.7,968.6 1755.7,970.0 1756.7,971.3 1757.7,972.5 1758.7,974.0 1759.7,975.4 1760.7,976.9 1761.7,980.5 1762.7,981.5 1763.7,982.0 1764.7,983.9 1765.7,985.0 1766.7,985.6 1767.7,985.7 1768.7,987.4 1769.7,989.8 1770.7,991.7 1771.7,992.0 1772.7,992.6 1773.7,994.2 1774.7,994.9 1775.7,996.7 1776.8,999.2 1777.9,1003.2 1779.0,1006.5 1780.1,1009.6 1781.2,1012.8 1782.3,1016.7 1783.3,1017.2 1784.4,1018.9 1785.4,1020.6 1786.4,1020.7 1787.5,1023.1 1788.5,1021.9 1789.5,1024.0 1790.5,1024.2 1791.6,1025.8 1792.6,1027.0 1793.6,1028.3 1794.7,1029.6 1795.7,1030.0 1796.8,1031.9 1797.9,1033.7 1799.0,1036.5 1800.1,1039.0 1801.2,1040.7 1802.3,1043.3 1803.3,1045.2 1804.3,1047.0 1805.3,1046.5 1806.3,1048.9 1807.3,1050.6 1808.3,1050.2 1809.3,1052.8 1810.3,1053.9 1811.3,1054.5 1812.3,1056.7 1813.4,1060.2 1814.5,1062.4 1815.7,1064.7 1816.8,1068.0 1817.9,1070.9 1819.0,1073.3 1820.0,1074.8 1821.0,1075.7 1822.1,1076.6 1823.1,1076.7 1824.1,1078.2 1825.1,1079.6 1826.2,1078.9 1827.2,1082.8 1828.2,1082.4 1829.2,1083.0 1830.3,1083.6 1831.3,1085.8 1832.3,1086.7 1833.4,1088.9 1834.5,1090.8 1835.7,1093.1 1836.8,1095.0 1837.9,1097.3 1839.0,1100.0 1840.0,1101.2 1841.0,1102.2 1842.1,1104.3 1843.1,1105.1 1844.1,1106.5 1845.1,1107.9 1846.2,1109.7 1847.2,1110.6 1848.2,1111.7 1849.2,1112.8 1850.3,1113.7 1851.3,1115.2 1852.3,1116.7 1853.3,1118.8 1854.3,1120.2 1855.3,1121.5 1856.3,1122.6 1857.3,1124.1 1858.3,1126.8 1859.3,1128.9 1860.3,1130.2 1861.3,1130.8 1862.3,1133.3 1863.3,1134.5 1864.3,1136.1 1865.3,1136.8 1866.3,1138.9 1867.3,1139.9 1868.3,1140.9 1869.3,1142.0 1870.3,1144.5 1871.3,1145.6 1872.3,1146.7 1873.3,1147.3 1874.3,1148.4 1875.3,1150.7 1876.3,1151.7 1877.3,1152.3 1878.3,1154.6 1879.3,1154.7 1880.3,1155.4 1881.3,1157.8 1882.3,1158.3 1883.3,1160.1 1884.4,1162.3 1885.5,1163.9 1886.5,1165.2 1887.5,1167.0 1888.6,1169.4 1889.7,1172.2 1890.7,1173.3 1891.8,1173.6 1892.8,1175.9 1893.9,1176.2 1894.9,1176.3 1896.0,1178.0 1897.0,1179.1 1898.1,1179.1 1899.1,1179.3 1900.2,1181.7 1901.2,1181.7 1902.3,1183.3 1903.3,1183.2 1904.3,1181.5 1905.3,1182.2 1906.3,1181.5 1907.3,1180.8 1908.3,1181.2 1909.3,1181.1 1910.3,1180.3 1911.3,1179.6 1912.3,1180.0 1913.4,1183.5 1914.5,1185.6 1915.7,1190.3 1916.8,1193.6 1917.9,1197.6 1919.0,1200.0 1920.1,1201.6 1921.2,1202.4 1922.3,1203.5 1923.5,1204.5 1924.6,1204.8 1925.7,1206.7 1926.7,1207.2 1927.7,1206.3 1928.7,1205.5 1929.7,1204.7 1930.7,1205.9 1931.7,1205.0 1932.7,1203.6 1933.7,1204.4 1934.7,1204.7 1935.7,1203.3 1936.7,1203.7 1937.8,1204.4 1938.8,1204.3 1939.8,1204.6 1940.9,1206.0 1941.9,1207.6 1943.0,1206.3 1944.0,1206.6 1945.0,1207.5 1946.1,1207.3 1947.1,1208.3 1948.2,1208.8 1949.2,1208.2 1950.2,1208.5 1951.3,1209.5 1952.3,1210.0 1953.3,1211.0 1954.4,1211.2 1955.4,1212.3 1956.5,1211.3 1957.5,1212.9 1958.6,1212.7 1959.6,1213.7 1960.7,1214.3 1961.7,1214.1 1962.7,1215.1 1963.8,1215.0 1964.8,1216.4 1965.9,1216.2 1966.9,1217.0 1968.0,1217.9 1969.0,1218.3 1970.0,1218.7 1971.0,1220.5 1972.1,1220.2 1973.1,1221.9 1974.1,1222.3 1975.1,1222.3 1976.2,1223.6 1977.2,1224.0 1978.2,1225.0 1979.2,1225.8 1980.3,1227.8 1981.3,1227.3 1982.3,1228.3 1983.3,1230.4 1984.4,1230.9 1985.4,1231.0 1986.4,1231.6 1987.5,1234.5 1988.5,1234.1 1989.5,1236.8 1990.5,1238.1 1991.6,1238.9 1992.6,1239.7 1993.6,1240.8 1994.7,1242.3 1995.7,1243.3 1996.7,1243.8 1997.7,1244.4 1998.7,1245.1 1999.7,1246.7 2000.7,1246.4 2001.7,1247.6 2002.7,1247.4 2003.7,1248.4 2004.7,1248.7 2005.7,1250.0 2006.7,1251.2 2007.7,1251.7 2008.7,1251.9 2009.7,1253.2 2010.7,1253.4 2011.7,1254.5 2012.7,1255.1 2013.7,1255.9 2014.7,1254.9 2015.7,1257.0 2016.7,1257.0 2017.7,1258.9 2018.8,1259.2 2019.8,1261.3 2020.8,1260.6 2021.8,1261.2 2022.9,1263.1 2023.9,1263.3 2024.9,1264.8 2025.9,1264.8 2027.0,1265.1 2028.0,1266.4 2029.0,1266.7 2030.0,1266.9 2031.0,1267.8 2032.0,1268.4 2033.0,1269.2 2034.0,1270.5 2035.0,1270.4 2036.0,1271.5 2037.0,1271.7 2038.0,1273.2 2039.0,1273.3 2040.0,1272.0 2041.0,1273.9 2042.0,1274.4 2043.0,1274.0 2044.0,1275.6 2045.0,1275.5 2046.0,1276.4 2047.0,1276.6 2048.0,1276.7 2049.0,1276.7 2050.0,1277.8 2051.0,1278.4 2052.1,1280.0 2053.1,1281.0 2054.1,1282.6 2055.1,1283.4 2056.2,1286.5 2057.2,1285.0 2058.2,1287.8 2059.2,1288.0 2060.3,1289.3 2061.3,1291.1 2062.3,1291.7 2063.4,1291.4 2064.5,1290.4 2065.7,1291.1 2066.8,1290.5 2067.9,1289.1 2069.0,1290.0 2070.0,1290.9 2071.0,1290.9 2072.1,1291.9 2073.1,1293.4 2074.1,1294.0 2075.1,1294.4 2076.2,1296.6 2077.2,1296.4 2078.2,1296.6 2079.2,1297.8 2080.3,1298.4 2081.3,1297.3 2082.3,1300.0 2083.3,1299.3 2084.4,1300.1 2085.4,1303.7 2086.4,1302.4 2087.5,1303.0 2088.5,1303.3 2089.5,1305.3 2090.5,1305.1 2091.6,1307.2 2092.6,1307.1 2093.6,1308.5 2094.7,1307.6 2095.7,1308.3 2096.8,1311.4 2097.9,1313.5 2099.0,1316.7 2100.0,1315.7 2101.0,1313.5 2102.0,1313.7 2103.0,1312.5 2104.0,1311.9 2105.0,1312.7 2106.0,1311.0 2107.0,1311.0 2108.0,1309.9 2109.0,1308.3 2110.0,1314.0 2111.0,1319.7 2112.0,1325.3 2113.0,1331.0 2114.0,1336.7 2115.0,1336.2 2116.0,1334.9 2117.0,1332.2 2118.0,1332.0 2119.0,1329.7 2120.0,1328.2 2121.0,1328.4 2122.0,1327.9 2123.0,1323.8 2124.0,1323.3 2125.1,1326.3 2126.1,1327.1 2127.2,1327.1 2128.3,1329.6 2129.3,1331.2 2130.4,1332.7 2131.4,1333.6 2132.5,1334.3 2133.6,1337.0 2134.6,1339.2 2135.7,1340.0 2136.7,1341.1 2137.7,1341.4 2138.7,1342.2 2139.7,1340.7 2140.7,1342.0 2141.7,1342.7 2142.7,1343.7 2143.7,1343.3 2144.7,1344.0 2145.7,1344.0 2146.7,1345.5 2147.7,1348.5 2148.7,1346.2 2149.7,1349.4 2150.7,1352.9 2151.7,1352.3 2152.7,1351.9 2153.7,1354.9 2154.7,1354.9 2155.7,1357.5 2156.7,1357.3 2157.8,1358.4 2158.8,1360.1 2159.8,1359.4 2160.9,1359.9 2161.9,1360.6 2163.0,1360.2 2164.0,1359.7 2165.0,1360.7 2166.1,1361.4 2167.1,1361.2 2168.2,1361.3 2169.2,1361.9 2170.2,1361.3 2171.3,1362.0 2172.3,1363.3 2173.3,1363.9 2174.4,1364.3 2175.4,1365.3 2176.4,1367.1 2177.5,1366.8 2178.5,1367.1 2179.5,1366.8 2180.5,1367.5 2181.6,1369.4 2182.6,1369.0 2183.6,1370.8 2184.7,1370.1 2185.7,1371.7 2186.7,1372.2 2187.8,1372.5 2188.8,1373.8 2189.8,1373.0 2190.9,1373.4 2191.9,1374.4 2193.0,1374.6 2194.0,1375.0 2195.0,1378.9 2196.0,1379.6 2197.0,1381.7 2198.0,1384.3 2199.0,1387.0 2200.0,1388.3 2201.0,1388.9 2202.1,1390.1 2203.1,1389.2 2204.1,1393.4 2205.1,1393.7 2206.2,1392.9 2207.2,1392.7 2208.2,1394.7 2209.2,1395.8 2210.3,1394.4 2211.3,1397.2 2212.3,1398.0 2213.4,1399.3 2214.5,1403.5 2215.7,1406.8 2216.8,1409.1 2217.9,1409.4 2219.0,1413.3 2220.1,1413.9 2221.2,1413.0 2222.3,1411.3 2223.5,1411.5 2224.6,1411.9 2225.7,1410.0 2226.8,1411.0 2227.9,1412.7 2229.0,1413.5 2230.1,1416.3 2231.2,1414.8 2232.3,1418.0 2233.3,1420.0 2234.3,1418.8 2235.3,1421.2 2236.3,1419.8 2237.3,1421.2 2238.3,1422.3 2239.3,1424.3 2240.3,1423.0 2241.3,1425.7 2242.3,1426.0 2243.4,1428.3 2244.5,1432.7 2245.7,1434.2 2246.8,1437.8 2247.9,1440.0 2249.0,1443.0 2250.0,1444.7 2251.0,1442.9 2252.0,1443.3 2253.0,1445.1 2254.0,1443.6 2255.0,1444.2 2256.0,1443.1 2257.0,1444.0 2258.0,1441.9 2259.0,1444.0 2260.1,1444.8 2261.1,1444.9 2262.2,1444.9 2263.3,1445.7 2264.3,1448.6 2265.4,1448.7 2266.4,1447.8 2267.5,1451.4 2268.6,1449.9 2269.6,1451.0 2270.7,1452.0 2272.3,1478.0 2274.0,1483.3" fill="none" stroke="#ff0000" stroke-width="5.8" stroke-linejoin="round" stroke-linecap="butt"/>
<polyline points="167.3,1393.3 168.3,1394.1 169.3,1391.5 170.3,1390.7 171.3,1392.9 172.3,1397.2 173.3,1395.0 174.4,1394.5 175.5,1386.7 176.7,1390.0 177.8,1385.1 178.9,1383.6 180.0,1380.0 181.1,1379.6 182.2,1379.8 183.3,1376.2 184.5,1375.9 185.6,1375.8 186.7,1376.7 187.8,1376.8 188.9,1379.7 190.0,1376.6 191.1,1383.4 192.2,1379.5 193.3,1381.7 194.4,1379.0 195.4,1380.3 196.4,1378.2 197.5,1375.1 198.6,1372.1 199.6,1370.8 200.6,1368.1 201.7,1370.0 202.7,1373.3 203.8,1374.0 204.8,1376.5 205.8,1374.4 206.9,1374.9 207.9,1376.6 209.0,1377.9 210.0,1376.7 211.0,1376.3 212.0,1377.8 213.0,1381.7 214.0,1373.8 215.0,1374.5 216.0,1375.6 217.0,1379.4 218.0,1380.5 219.0,1377.4 220.0,1378.3 221.1,1380.5 222.1,1379.7 223.2,1381.2 224.3,1380.2 225.3,1382.1 226.4,1382.9 227.4,1386.0 228.5,1389.1 229.6,1381.3 230.6,1387.1 231.7,1386.7 232.7,1384.2 233.8,1383.8 234.8,1381.4 235.8,1378.4 236.9,1375.9 237.9,1369.7 239.0,1365.6 240.0,1366.7 241.0,1371.0 242.0,1370.8 243.1,1367.0 244.1,1372.5 245.1,1372.0 246.1,1366.1 247.2,1374.0 248.2,1370.8 249.2,1376.1 250.2,1372.9 251.3,1373.6 252.3,1372.7 253.3,1376.7 254.3,1375.5 255.4,1377.3 256.4,1373.0 257.4,1369.7 258.5,1377.4 259.5,1376.0 260.5,1372.8 261.5,1369.4 262.6,1367.2 263.6,1365.5 264.6,1369.4 265.7,1370.2 266.7,1366.7 267.7,1363.6 268.7,1365.0 269.7,1363.6 270.7,1362.8 271.7,1363.6 272.7,1366.1 273.7,1359.5 274.7,1361.8 275.7,1361.4 276.7,1358.3 277.7,1358.9 278.7,1360.3 279.7,1359.0 280.7,1365.3 281.7,1363.0 282.7,1363.9 283.7,1366.6 284.7,1365.8 285.7,1366.6 286.7,1370.0 287.7,1368.3 288.7,1371.1 289.8,1366.5 290.8,1367.0 291.8,1361.8 292.8,1359.7 293.9,1366.7 294.9,1361.0 295.9,1357.5 296.9,1359.5 298.0,1360.0 299.0,1354.1 300.0,1356.7 301.0,1354.2 302.0,1356.0 303.1,1352.8 304.1,1355.8 305.1,1355.5 306.1,1353.8 307.2,1351.3 308.2,1351.4 309.2,1349.5 310.2,1350.0 311.3,1350.3 312.3,1348.3 313.3,1348.3 314.3,1350.6 315.4,1354.3 316.4,1347.9 317.4,1350.1 318.5,1351.4 319.5,1351.2 320.5,1349.6 321.5,1349.4 322.6,1352.8 323.6,1352.2 324.6,1352.3 325.7,1349.7 326.7,1351.7 327.7,1353.4 328.7,1354.2 329.8,1352.5 330.8,1354.6 331.8,1358.2 332.8,1350.0 333.9,1355.7 334.9,1352.3 335.9,1352.3 336.9,1355.0 338.0,1357.1 339.0,1356.4 340.0,1356.7 341.0,1353.2 342.0,1351.6 343.1,1352.4 344.1,1352.6 345.1,1349.8 346.1,1347.3 347.2,1353.2 348.2,1346.7 349.2,1347.1 350.2,1345.2 351.3,1344.1 352.3,1344.4 353.3,1343.3 354.3,1343.2 355.3,1345.6 356.3,1342.3 357.3,1342.1 358.3,1349.9 359.3,1346.1 360.3,1348.4 361.3,1349.8 362.3,1349.0 363.3,1348.4 364.3,1345.5 365.3,1345.9 366.3,1351.9 367.3,1351.7 368.3,1352.0 369.3,1347.8 370.3,1347.3 371.3,1350.0 372.3,1350.3 373.3,1353.3 374.3,1353.1 375.3,1350.0 376.3,1354.9 377.3,1349.7 378.3,1349.2 379.3,1351.7 380.3,1349.9 381.3,1346.7 382.3,1349.8 383.3,1351.6 384.3,1344.3 385.3,1345.8 386.3,1343.5 387.3,1341.0 388.3,1345.9 389.3,1345.5 390.3,1345.5 391.3,1343.8 392.3,1338.0 393.3,1341.7 394.3,1342.1 395.4,1341.1 396.4,1340.4 397.5,1341.0 398.5,1345.4 399.6,1343.5 400.6,1348.8 401.6,1346.0 402.7,1341.3 403.7,1347.7 404.8,1348.9 405.8,1346.7 406.9,1344.5 407.9,1351.3 409.0,1345.1 410.0,1348.3 411.0,1347.0 412.0,1341.9 413.1,1342.2 414.1,1340.0 415.1,1344.9 416.1,1343.9 417.2,1339.4 418.2,1336.2 419.2,1337.8 420.2,1337.6 421.3,1332.3 422.3,1332.0 423.3,1333.3 424.3,1333.3 425.4,1335.3 426.4,1334.2 427.4,1335.3 428.5,1331.9 429.5,1329.5 430.5,1335.8 431.5,1333.4 432.6,1335.4 433.6,1335.1 434.6,1337.2 435.7,1334.8 436.7,1336.7 437.7,1340.4 438.7,1338.0 439.8,1339.8 440.8,1340.6 441.8,1342.1 442.8,1341.4 443.9,1337.4 444.9,1340.5 445.9,1346.4 446.9,1344.1 448.0,1344.9 449.0,1345.4 450.0,1345.0 451.1,1338.6 452.2,1333.5 453.3,1330.0 454.3,1328.1 455.4,1331.5 456.4,1329.2 457.4,1331.8 458.5,1328.5 459.5,1331.0 460.5,1327.4 461.5,1323.3 462.6,1329.1 463.6,1325.6 464.6,1326.9 465.7,1324.3 466.7,1323.3 467.7,1322.9 468.7,1324.2 469.8,1321.7 470.8,1321.8 471.8,1322.7 472.8,1323.7 473.9,1322.2 474.9,1325.2 475.9,1326.3 476.9,1330.3 478.0,1330.1 479.0,1326.3 480.0,1326.7 481.0,1325.6 482.0,1320.2 483.0,1318.5 484.0,1314.6 485.0,1311.7 486.0,1310.7 487.1,1312.3 488.1,1309.1 489.1,1313.5 490.2,1312.1 491.2,1310.6 492.3,1312.3 493.3,1313.3 494.3,1314.8 495.4,1312.4 496.4,1315.1 497.4,1315.6 498.5,1318.0 499.5,1312.5 500.5,1314.9 501.5,1316.5 502.6,1318.9 503.6,1316.5 504.6,1317.8 505.7,1313.3 506.7,1316.7 507.7,1314.8 508.7,1319.0 509.8,1314.1 510.8,1318.8 511.8,1311.9 512.8,1312.2 513.9,1308.7 514.9,1312.9 515.9,1311.5 516.9,1314.6 518.0,1310.0 519.0,1308.4 520.0,1308.3 521.0,1305.2 522.0,1308.1 523.1,1310.4 524.1,1309.9 525.1,1311.0 526.1,1310.2 527.2,1308.2 528.2,1309.6 529.2,1308.7 530.2,1305.4 531.3,1312.0 532.3,1309.1 533.3,1308.3 534.4,1306.8 535.5,1310.8 536.6,1311.4 537.8,1313.8 538.9,1315.6 540.0,1313.3 541.1,1305.3 542.2,1311.7 543.4,1312.5 544.5,1305.7 545.6,1302.3 546.7,1305.0 547.7,1305.7 548.7,1306.0 549.8,1306.2 550.8,1303.1 551.8,1304.6 552.8,1306.2 553.9,1307.5 554.9,1310.8 555.9,1306.8 556.9,1305.0 558.0,1301.3 559.0,1308.9 560.0,1306.7 561.0,1306.0 562.1,1305.6 563.1,1303.3 564.2,1306.6 565.2,1300.7 566.3,1304.4 567.3,1304.0 568.4,1304.0 569.4,1305.8 570.4,1302.3 571.5,1302.3 572.5,1303.5 573.6,1297.9 574.6,1300.2 575.7,1300.6 576.7,1300.0 577.7,1301.8 578.8,1297.6 579.8,1300.8 580.9,1299.6 581.9,1295.2 582.9,1294.9 584.0,1294.7 585.0,1297.8 586.0,1297.6 587.1,1298.5 588.1,1298.4 589.1,1295.0 590.2,1298.3 591.2,1297.4 592.3,1296.3 593.3,1295.0 594.3,1296.2 595.4,1292.4 596.4,1296.1 597.5,1293.2 598.5,1292.9 599.6,1294.9 600.6,1296.0 601.6,1295.7 602.7,1295.2 603.7,1293.9 604.8,1296.6 605.8,1294.7 606.9,1293.3 607.9,1296.7 609.0,1299.8 610.0,1296.7 611.0,1295.5 612.1,1293.8 613.1,1298.8 614.2,1299.2 615.2,1294.5 616.3,1294.4 617.3,1295.0 618.4,1300.7 619.4,1294.2 620.4,1295.8 621.5,1294.2 622.5,1289.0 623.6,1290.2 624.6,1289.6 625.7,1293.0 626.7,1291.7 627.8,1291.1 628.9,1294.0 630.0,1288.6 631.1,1289.0 632.2,1287.7 633.3,1286.7 634.3,1286.8 635.4,1291.3 636.4,1286.7 637.5,1289.1 638.5,1288.5 639.6,1284.1 640.6,1286.7 641.6,1284.2 642.7,1285.0 643.7,1284.9 644.8,1284.4 645.8,1283.1 646.9,1287.3 647.9,1283.1 649.0,1285.1 650.0,1283.3 651.0,1286.9 652.1,1284.5 653.1,1285.3 654.2,1285.9 655.2,1285.2 656.3,1286.5 657.3,1279.5 658.4,1286.8 659.4,1282.5 660.4,1278.5 661.5,1280.8 662.5,1279.0 663.6,1282.0 664.6,1278.6 665.7,1279.6 666.7,1281.7 667.7,1282.2 668.7,1281.8 669.8,1279.6 670.8,1280.7 671.8,1280.8 672.8,1281.1 673.9,1280.8 674.9,1280.2 675.9,1282.5 676.9,1276.9 678.0,1279.2 679.0,1280.4 680.0,1280.0 681.0,1278.7 682.1,1277.9 683.1,1277.8 684.2,1278.8 685.2,1280.6 686.3,1277.1 687.3,1276.5 688.4,1277.4 689.4,1275.7 690.4,1271.6 691.5,1276.0 692.5,1274.1 693.6,1273.3 694.6,1275.5 695.7,1273.8 696.7,1273.3 697.7,1272.1 698.8,1268.5 699.8,1269.5 700.9,1273.3 701.9,1273.0 702.9,1274.3 704.0,1273.8 705.0,1272.2 706.0,1270.5 707.1,1270.9 708.1,1273.0 709.1,1270.8 710.2,1275.0 711.2,1270.4 712.3,1269.4 713.3,1273.3 714.3,1272.5 715.3,1268.7 716.3,1275.9 717.3,1269.8 718.3,1271.5 719.3,1270.8 720.3,1269.2 721.3,1266.8 722.3,1266.2 723.3,1271.9 724.3,1271.9 725.3,1274.1 726.3,1265.8 727.3,1269.9 728.3,1268.3 729.3,1269.9 730.3,1266.6 731.3,1268.9 732.3,1269.0 733.3,1266.7 734.3,1267.9 735.4,1269.7 736.4,1266.0 737.5,1269.7 738.5,1264.6 739.6,1269.7 740.6,1259.9 741.6,1265.9 742.7,1264.0 743.7,1265.6 744.8,1267.8 745.8,1267.0 746.9,1265.5 747.9,1269.0 749.0,1261.9 750.0,1265.0 751.0,1263.0 752.0,1268.0 753.0,1265.2 754.0,1259.8 755.0,1264.9 756.0,1261.4 757.0,1267.1 758.0,1266.2 759.0,1262.3 760.0,1263.3 761.0,1265.6 762.0,1260.5 763.0,1263.8 764.0,1262.6 765.0,1260.5 766.0,1257.2 767.0,1259.2 768.0,1254.3 769.0,1257.6 770.0,1258.3 771.0,1255.1 772.1,1262.6 773.1,1258.7 774.1,1256.3 775.2,1263.8 776.2,1264.1 777.3,1263.0 778.3,1265.0" fill="none" stroke="#000000" stroke-width="7" stroke-linejoin="round"/>
<polyline points="167.3,1393.3 168.3,1394.1 169.3,1391.5 170.3,1390.7 171.3,1392.9 172.3,1397.2 173.3,1395.0 174.4,1394.5 175.5,1386.7 176.7,1390.0 177.8,1385.1 178.9,1383.6 180.0,1380.0 181.1,1379.6 182.2,1379.8 183.3,1376.2 184.5,1375.9 185.6,1375.8 186.7,1376.7 187.8,1376.8 188.9,1379.7 190.0,1376.6 191.1,1383.4 192.2,1379.5 193.3,1381.7 194.4,1379.0 195.4,1380.3 196.4,1378.2 197.5,1375.1 198.6,1372.1 199.6,1370.8 200.6,1368.1 201.7,1370.0 202.7,1373.3 203.8,1374.0 204.8,1376.5 205.8,1374.4 206.9,1374.9 207.9,1376.6 209.0,1377.9 210.0,1376.7 211.0,1376.3 212.0,1377.8 213.0,1381.7 214.0,1373.8 215.0,1374.5 216.0,1375.6 217.0,1379.4 218.0,1380.5 219.0,1377.4 220.0,1378.3 221.1,1380.5 222.1,1379.7 223.2,1381.2 224.3,1380.2 225.3,1382.1 226.4,1382.9 227.4,1386.0 228.5,1389.1 229.6,1381.3 230.6,1387.1 231.7,1386.7 232.7,1384.2 233.8,1383.8 234.8,1381.4 235.8,1378.4 236.9,1375.9 237.9,1369.7 239.0,1365.6 240.0,1366.7 241.0,1371.0 242.0,1370.8 243.1,1367.0 244.1,1372.5 245.1,1372.0 246.1,1366.1 247.2,1374.0 248.2,1370.8 249.2,1376.1 250.2,1372.9 251.3,1373.6 252.3,1372.7 253.3,1376.7 254.3,1375.5 255.4,1377.3 256.4,1373.0 257.4,1369.7 258.5,1377.4 259.5,1376.0 260.5,1372.8 261.5,1369.4 262.6,1367.2 263.6,1365.5 264.6,1369.4 265.7,1370.2 266.7,1366.7 267.7,1363.6 268.7,1365.0 269.7,1363.6 270.7,1362.8 271.7,1363.6 272.7,1366.1 273.7,1359.5 274.7,1361.8 275.7,1361.4 276.7,1358.3 277.7,1358.9 278.7,1360.3 279.7,1359.0 280.7,1365.3 281.7,1363.0 282.7,1363.9 283.7,1366.6 284.7,1365.8 285.7,1366.6 286.7,1370.0 287.7,1368.3 288.7,1371.1 289.8,1366.5 290.8,1367.0 291.8,1361.8 292.8,1359.7 293.9,1366.7 294.9,1361.0 295.9,1357.5 296.9,1359.5 298.0,1360.0 299.0,1354.1 300.0,1356.7 301.0,1354.2 302.0,1356.0 303.1,1352.8 304.1,1355.8 305.1,1355.5 306.1,1353.8 307.2,1351.3 308.2,1351.4 309.2,1349.5 310.2,1350.0 311.3,1350.3 312.3,1348.3 313.3,1348.3 314.3,1350.6 315.4,1354.3 316.4,1347.9 317.4,1350.1 318.5,1351.4 319.5,1351.2 320.5,1349.6 321.5,1349.4 322.6,1352.8 323.6,1352.2 324.6,1352.3 325.7,1349.7 326.7,1351.7 327.7,1353.4 328.7,1354.2 329.8,1352.5 330.8,1354.6 331.8,1358.2 332.8,1350.0 333.9,1355.7 334.9,1352.3 335.9,1352.3 336.9,1355.0 338.0,1357.1 339.0,1356.4 340.0,1356.7 341.0,1353.2 342.0,1351.6 343.1,1352.4 344.1,1352.6 345.1,1349.8 346.1,1347.3 347.2,1353.2 348.2,1346.7 349.2,1347.1 350.2,1345.2 351.3,1344.1 352.3,1344.4 353.3,1343.3 354.3,1343.2 355.3,1345.6 356.3,1342.3 357.3,1342.1 358.3,1349.9 359.3,1346.1 360.3,1348.4 361.3,1349.8 362.3,1349.0 363.3,1348.4 364.3,1345.5 365.3,1345.9 366.3,1351.9 367.3,1351.7 368.3,1352.0 369.3,1347.8 370.3,1347.3 371.3,1350.0 372.3,1350.3 373.3,1353.3 374.3,1353.1 375.3,1350.0 376.3,1354.9 377.3,1349.7 378.3,1349.2 379.3,1351.7 380.3,1349.9 381.3,1346.7 382.3,1349.8 383.3,1351.6 384.3,1344.3 385.3,1345.8 386.3,1343.5 387.3,1341.0 388.3,1345.9 389.3,1345.5 390.3,1345.5 391.3,1343.8 392.3,1338.0 393.3,1341.7 394.3,1342.1 395.4,1341.1 396.4,1340.4 397.5,1341.0 398.5,1345.4 399.6,1343.5 400.6,1348.8 401.6,1346.0 402.7,1341.3 403.7,1347.7 404.8,1348.9 405.8,1346.7 406.9,1344.5 407.9,1351.3 409.0,1345.1 410.0,1348.3 411.0,1347.0 412.0,1341.9 413.1,1342.2 414.1,1340.0 415.1,1344.9 416.1,1343.9 417.2,1339.4 418.2,1336.2 419.2,1337.8 420.2,1337.6 421.3,1332.3 422.3,1332.0 423.3,1333.3 424.3,1333.3 425.4,1335.3 426.4,1334.2 427.4,1335.3 428.5,1331.9 429.5,1329.5 430.5,1335.8 431.5,1333.4 432.6,1335.4 433.6,1335.1 434.6,1337.2 435.7,1334.8 436.7,1336.7 437.7,1340.4 438.7,1338.0 439.8,1339.8 440.8,1340.6 441.8,1342.1 442.8,1341.4 443.9,1337.4 444.9,1340.5 445.9,1346.4 446.9,1344.1 448.0,1344.9 449.0,1345.4 450.0,1345.0 451.1,1338.6 452.2,1333.5 453.3,1330.0 454.3,1328.1 455.4,1331.5 456.4,1329.2 457.4,1331.8 458.5,1328.5 459.5,1331.0 460.5,1327.4 461.5,1323.3 462.6,1329.1 463.6,1325.6 464.6,1326.9 465.7,1324.3 466.7,1323.3 467.7,1322.9 468.7,1324.2 469.8,1321.7 470.8,1321.8 471.8,1322.7 472.8,1323.7 473.9,1322.2 474.9,1325.2 475.9,1326.3 476.9,1330.3 478.0,1330.1 479.0,1326.3 480.0,1326.7 481.0,1325.6 482.0,1320.2 483.0,1318.5 484.0,1314.6 485.0,1311.7 486.0,1310.7 487.1,1312.3 488.1,1309.1 489.1,1313.5 490.2,1312.1 491.2,1310.6 492.3,1312.3 493.3,1313.3 494.3,1314.8 495.4,1312.4 496.4,1315.1 497.4,1315.6 498.5,1318.0 499.5,1312.5 500.5,1314.9 501.5,1316.5 502.6,1318.9 503.6,1316.5 504.6,1317.8 505.7,1313.3 506.7,1316.7 507.7,1314.8 508.7,1319.0 509.8,1314.1 510.8,1318.8 511.8,1311.9 512.8,1312.2 513.9,1308.7 514.9,1312.9 515.9,1311.5 516.9,1314.6 518.0,1310.0 519.0,1308.4 520.0,1308.3 521.0,1305.2 522.0,1308.1 523.1,1310.4 524.1,1309.9 525.1,1311.0 526.1,1310.2 527.2,1308.2 528.2,1309.6 529.2,1308.7 530.2,1305.4 531.3,1312.0 532.3,1309.1 533.3,1308.3 534.4,1306.8 535.5,1310.8 536.6,1311.4 537.8,1313.8 538.9,1315.6 540.0,1313.3 541.1,1305.3 542.2,1311.7 543.4,1312.5 544.5,1305.7 545.6,1302.3 546.7,1305.0 547.7,1305.7 548.7,1306.0 549.8,1306.2 550.8,1303.1 551.8,1304.6 552.8,1306.2 553.9,1307.5 554.9,1310.8 555.9,1306.8 556.9,1305.0 558.0,1301.3 559.0,1308.9 560.0,1306.7 561.0,1306.0 562.1,1305.6 563.1,1303.3 564.2,1306.6 565.2,1300.7 566.3,1304.4 567.3,1304.0 568.4,1304.0 569.4,1305.8 570.4,1302.3 571.5,1302.3 572.5,1303.5 573.6,1297.9 574.6,1300.2 575.7,1300.6 576.7,1300.0 577.7,1301.8 578.8,1297.6 579.8,1300.8 580.9,1299.6 581.9,1295.2 582.9,1294.9 584.0,1294.7 585.0,1297.8 586.0,1297.6 587.1,1298.5 588.1,1298.4 589.1,1295.0 590.2,1298.3 591.2,1297.4 592.3,1296.3 593.3,1295.0 594.3,1296.2 595.4,1292.4 596.4,1296.1 597.5,1293.2 598.5,1292.9 599.6,1294.9 600.6,1296.0 601.6,1295.7 602.7,1295.2 603.7,1293.9 604.8,1296.6 605.8,1294.7 606.9,1293.3 607.9,1296.7 609.0,1299.8 610.0,1296.7 611.0,1295.5 612.1,1293.8 613.1,1298.8 614.2,1299.2 615.2,1294.5 616.3,1294.4 617.3,1295.0 618.4,1300.7 619.4,1294.2 620.4,1295.8 621.5,1294.2 622.5,1289.0 623.6,1290.2 624.6,1289.6 625.7,1293.0 626.7,1291.7 627.8,1291.1 628.9,1294.0 630.0,1288.6 631.1,1289.0 632.2,1287.7 633.3,1286.7 634.3,1286.8 635.4,1291.3 636.4,1286.7 637.5,1289.1 638.5,1288.5 639.6,1284.1 640.6,1286.7 641.6,1284.2 642.7,1285.0 643.7,1284.9 644.8,1284.4 645.8,1283.1 646.9,1287.3 647.9,1283.1 649.0,1285.1 650.0,1283.3 651.0,1286.9 652.1,1284.5 653.1,1285.3 654.2,1285.9 655.2,1285.2 656.3,1286.5 657.3,1279.5 658.4,1286.8 659.4,1282.5 660.4,1278.5 661.5,1280.8 662.5,1279.0 663.6,1282.0 664.6,1278.6 665.7,1279.6 666.7,1281.7 667.7,1282.2 668.7,1281.8 669.8,1279.6 670.8,1280.7 671.8,1280.8 672.8,1281.1 673.9,1280.8 674.9,1280.2 675.9,1282.5 676.9,1276.9 678.0,1279.2 679.0,1280.4 680.0,1280.0 681.0,1278.7 682.1,1277.9 683.1,1277.8 684.2,1278.8 685.2,1280.6 686.3,1277.1 687.3,1276.5 688.4,1277.4 689.4,1275.7 690.4,1271.6 691.5,1276.0 692.5,1274.1 693.6,1273.3 694.6,1275.5 695.7,1273.8 696.7,1273.3 697.7,1272.1 698.8,1268.5 699.8,1269.5 700.9,1273.3 701.9,1273.0 702.9,1274.3 704.0,1273.8 705.0,1272.2 706.0,1270.5 707.1,1270.9 708.1,1273.0 709.1,1270.8 710.2,1275.0 711.2,1270.4 712.3,1269.4 713.3,1273.3 714.3,1272.5 715.3,1268.7 716.3,1275.9 717.3,1269.8 718.3,1271.5 719.3,1270.8 720.3,1269.2 721.3,1266.8 722.3,1266.2 723.3,1271.9 724.3,1271.9 725.3,1274.1 726.3,1265.8 727.3,1269.9 728.3,1268.3 729.3,1269.9 730.3,1266.6 731.3,1268.9 732.3,1269.0 733.3,1266.7 734.3,1267.9 735.4,1269.7 736.4,1266.0 737.5,1269.7 738.5,1264.6 739.6,1269.7 740.6,1259.9 741.6,1265.9 742.7,1264.0 743.7,1265.6 744.8,1267.8 745.8,1267.0 746.9,1265.5 747.9,1269.0 749.0,1261.9 750.0,1265.0 751.0,1263.0 752.0,1268.0 753.0,1265.2 754.0,1259.8 755.0,1264.9 756.0,1261.4 757.0,1267.1 758.0,1266.2 759.0,1262.3 760.0,1263.3 761.0,1265.6 762.0,1260.5 763.0,1263.8 764.0,1262.6 765.0,1260.5 766.0,1257.2 767.0,1259.2 768.0,1254.3 769.0,1257.6 770.0,1258.3 771.0,1255.1 772.1,1262.6 773.1,1258.7 774.1,1256.3 775.2,1263.8 776.2,1264.1 777.3,1263.0 778.3,1265.0" fill="none" stroke="#000000" stroke-width="5.6" stroke-linejoin="round" stroke-linecap="butt"/>
<polyline points="816.7,1283.3 817.7,1285.0 818.7,1282.8 819.7,1281.4 820.7,1280.0 821.7,1280.0 822.8,1277.7 823.8,1282.3 824.9,1283.8 825.9,1283.0 827.0,1283.0 828.0,1285.4 829.1,1284.5 830.1,1287.3 831.2,1289.0 832.2,1290.8 833.3,1290.0 834.3,1290.4 835.3,1290.4 836.3,1291.1 837.3,1291.9 838.3,1290.1 839.3,1289.2 840.3,1289.7 841.3,1289.3 842.3,1289.8 843.3,1290.7 844.3,1291.3 845.3,1291.2 846.3,1291.2 847.3,1290.8 848.3,1291.7 849.3,1292.3 850.3,1292.3 851.3,1293.2 852.3,1291.3 853.3,1291.7 854.3,1291.9 855.4,1294.6 856.4,1293.5 857.5,1294.2 858.5,1293.9 859.6,1295.9 860.6,1294.9 861.6,1294.7 862.7,1296.3 863.7,1296.4 864.8,1298.3 865.8,1297.5 866.9,1298.6 867.9,1298.7 869.0,1299.9 870.0,1300.0 871.0,1299.8 872.0,1302.2 873.1,1300.0 874.1,1301.6 875.1,1301.8 876.1,1303.8 877.2,1303.7 878.2,1304.7 879.2,1304.3 880.2,1304.4 881.3,1304.4 882.3,1305.8 883.3,1306.7 884.3,1306.5 885.4,1307.8 886.4,1308.2 887.4,1309.3 888.5,1308.5 889.5,1308.2 890.5,1308.2 891.5,1309.8 892.6,1310.6 893.6,1312.7 894.6,1311.1 895.7,1313.2 896.7,1311.7 897.8,1313.9 898.8,1310.8 899.9,1313.5 900.9,1313.5 902.0,1313.9 903.0,1312.6 904.1,1313.8 905.1,1312.3 906.2,1312.9 907.2,1313.2 908.3,1313.3 909.3,1316.9 910.3,1316.4 911.3,1319.4 912.3,1320.1 913.3,1321.7 914.3,1321.6 915.4,1323.2 916.4,1324.3 917.4,1323.5 918.5,1325.6 919.5,1324.7 920.5,1325.2 921.5,1327.0 922.6,1327.2 923.6,1327.0 924.6,1326.9 925.7,1329.4 926.7,1330.0 927.7,1330.7 928.8,1330.3 929.8,1331.5 930.9,1330.0 931.9,1332.5 932.9,1333.0 934.0,1333.2 935.0,1332.7 936.0,1333.9 937.1,1334.3 938.1,1335.8 939.1,1335.3 940.2,1335.7 941.2,1335.1 942.3,1337.2 943.3,1336.7 944.3,1338.8 945.4,1337.7 946.4,1339.7 947.4,1340.1 948.5,1340.5 949.5,1339.9 950.5,1344.0 951.5,1340.8 952.6,1344.0 953.6,1344.0 954.6,1346.4 955.7,1345.5 956.7,1346.7 957.7,1347.2 958.7,1348.4 959.7,1348.7 960.7,1348.1 961.7,1349.9 962.7,1350.1 963.7,1351.3 964.7,1350.1 965.7,1351.1 966.7,1351.7 967.8,1353.5 968.9,1355.2 970.0,1358.3 971.0,1358.7 972.0,1359.1 973.0,1360.4 974.0,1358.6 975.0,1359.6 976.0,1360.6 977.0,1359.4 978.0,1359.7 979.0,1360.0 980.0,1360.0 981.0,1360.3 982.0,1361.0 983.1,1364.3 984.1,1364.3 985.1,1365.0 986.1,1364.8 987.2,1367.3 988.2,1369.5 989.2,1367.9 990.2,1369.3 991.3,1372.5 992.3,1373.8 993.3,1373.3 994.3,1376.0 995.4,1374.8 996.4,1377.0 997.4,1376.6 998.5,1379.0 999.5,1379.1 1000.5,1380.7 1001.5,1383.0 1002.6,1382.9 1003.6,1383.3 1004.6,1384.7 1005.7,1386.0 1006.7,1386.7 1007.7,1386.8 1008.7,1388.2 1009.7,1389.3 1010.7,1391.0 1011.7,1387.7 1012.7,1389.4 1013.7,1390.0 1014.7,1392.9 1015.7,1395.3 1016.7,1393.3 1017.7,1394.9 1018.7,1396.1 1019.7,1398.6 1020.7,1396.0 1021.7,1399.8 1022.7,1397.9 1023.7,1402.8 1024.7,1403.5 1025.7,1404.8 1026.7,1406.7 1027.7,1408.6 1028.7,1409.1 1029.7,1412.4 1030.7,1412.7 1031.7,1414.6 1032.7,1418.5 1033.7,1416.7 1034.7,1419.7 1035.7,1419.3 1036.7,1421.7 1037.7,1423.8 1038.7,1424.3 1039.8,1424.2 1040.8,1425.9 1041.8,1427.3 1042.8,1427.8 1043.9,1427.1 1044.9,1427.8 1045.9,1429.8 1046.9,1427.8 1048.0,1429.5 1049.0,1431.5 1050.0,1431.7 1051.1,1434.0 1052.2,1437.1 1053.3,1438.6 1054.5,1438.7 1055.6,1440.5 1056.7,1441.7 1057.7,1441.0 1058.7,1443.0 1059.8,1444.3 1060.8,1444.5 1061.8,1445.6 1062.8,1447.0 1063.9,1446.0 1064.9,1447.2 1065.9,1446.7 1066.9,1450.6 1068.0,1449.0 1069.0,1449.1 1070.0,1451.7 1071.1,1453.3 1072.1,1453.0 1073.2,1455.0 1074.3,1454.3 1075.3,1457.8 1076.4,1457.0 1077.4,1457.1 1078.5,1457.9 1079.6,1458.3 1080.6,1460.1 1081.7,1460.0 1082.8,1462.2 1083.8,1459.5 1084.9,1458.8 1085.9,1460.6 1087.0,1461.2 1088.0,1458.4 1089.1,1459.2 1090.1,1458.9 1091.2,1460.6 1092.2,1460.5 1093.3,1460.0 1094.4,1457.0 1095.5,1454.3 1096.7,1454.1 1097.8,1448.9 1098.9,1449.6 1100.0,1446.7 1101.0,1445.5 1102.0,1446.7 1103.1,1444.7 1104.1,1441.9 1105.1,1441.2 1106.1,1440.2 1107.2,1438.7 1108.2,1438.5 1109.2,1438.5 1110.2,1434.8 1111.3,1435.1 1112.3,1436.0 1113.3,1433.3 1114.4,1434.7 1115.5,1433.6 1116.7,1434.1 1117.8,1434.6 1118.9,1434.4 1120.0,1436.7 1121.1,1439.0 1122.2,1439.0 1123.3,1439.2 1124.5,1439.5 1125.6,1441.8 1126.7,1443.3 1127.7,1442.9 1128.7,1445.5 1129.7,1443.3 1130.7,1444.1 1131.7,1445.3 1132.7,1445.0 1133.7,1444.3 1134.7,1442.3 1135.7,1446.3 1136.7,1445.0 1137.7,1444.6 1138.7,1442.5 1139.7,1441.9 1140.7,1440.0 1141.7,1439.0 1142.7,1437.4 1143.7,1438.5 1144.7,1437.6 1145.7,1436.2 1146.7,1435.0 1147.7,1435.3 1148.7,1434.6 1149.7,1433.6 1150.7,1432.0 1151.7,1433.1 1152.7,1433.3 1153.7,1432.2 1154.7,1432.3 1155.7,1430.0 1156.7,1430.0 1158.3,1416.7 1159.3,1413.6 1160.3,1414.1 1161.3,1410.1 1162.3,1409.0 1163.3,1406.7 1164.4,1403.2 1165.5,1400.1 1166.7,1396.4 1167.8,1392.8 1168.9,1388.1 1170.0,1386.7 1171.1,1377.8 1172.2,1368.9 1173.3,1360.0 1174.4,1358.2 1175.5,1352.5 1176.7,1346.3 1177.8,1343.5 1178.9,1339.4 1180.0,1336.7 1181.1,1331.7 1182.2,1326.7 1183.3,1321.7 1184.5,1316.7 1185.6,1311.7 1186.7,1306.7 1187.8,1302.2 1188.9,1297.8 1190.0,1293.3 1191.1,1288.9 1192.2,1284.5 1193.3,1280.0 1194.3,1274.5 1195.3,1267.9 1196.3,1266.6 1197.3,1263.1 1198.3,1256.7 1199.4,1252.0 1200.5,1248.6 1201.7,1244.0 1202.8,1237.6 1203.9,1235.8 1205.0,1230.0 1206.1,1225.0 1207.2,1220.0 1208.3,1215.0 1209.5,1210.0 1210.6,1205.0 1211.7,1200.0 1212.7,1193.5 1213.7,1190.1 1214.7,1185.6 1215.7,1182.7 1216.7,1176.7 1217.7,1173.5 1218.7,1169.9 1219.7,1165.8 1220.7,1163.4 1221.7,1160.0 1222.7,1157.8 1223.8,1156.2 1224.8,1154.6 1225.8,1151.6 1226.9,1148.6 1227.9,1146.1 1229.0,1145.7 1230.0,1141.7 1231.0,1140.1 1232.0,1138.0 1233.0,1138.1 1234.0,1136.0 1235.0,1133.1 1236.0,1130.5 1237.0,1128.1 1238.0,1128.1 1239.0,1124.7 1240.0,1123.3 1241.0,1122.3 1242.0,1118.5 1243.0,1117.4 1244.0,1115.7 1245.0,1113.3 1246.0,1115.5 1247.0,1117.6 1248.0,1119.7 1249.0,1120.1 1250.0,1123.3 1251.0,1122.9 1252.0,1124.8 1253.0,1127.8 1254.0,1126.5 1255.0,1126.5 1256.0,1127.6 1257.0,1129.2 1258.0,1131.3 1259.0,1130.3 1260.0,1131.7 1261.1,1137.0 1262.2,1142.2 1263.3,1147.5 1264.5,1152.8 1265.6,1158.0 1266.7,1163.3 1267.7,1164.9 1268.7,1165.5 1269.7,1165.9 1270.7,1166.3 1271.7,1168.1 1272.7,1168.5 1273.7,1170.9 1274.7,1169.4 1275.7,1173.5 1276.7,1173.3 1277.7,1175.8 1278.7,1177.3 1279.7,1179.9 1280.7,1180.6 1281.7,1179.8 1282.7,1183.4 1283.7,1185.5 1284.7,1185.9 1285.7,1187.1 1286.7,1190.0 1287.7,1191.1 1288.7,1191.9 1289.7,1191.6 1290.7,1192.4 1291.7,1192.8 1292.7,1193.4 1293.7,1194.6 1294.7,1196.5 1295.7,1194.3 1296.7,1196.7 1297.8,1199.4 1298.9,1204.5 1300.0,1206.2 1301.1,1209.1 1302.2,1212.8 1303.3,1215.0 1304.3,1213.9 1305.4,1213.7 1306.4,1213.2 1307.4,1213.4 1308.5,1215.3 1309.5,1215.9 1310.5,1214.6 1311.5,1214.3 1312.6,1215.4 1313.6,1215.7 1314.6,1215.3 1315.7,1213.0 1316.7,1215.0 1317.7,1214.0 1318.7,1211.5 1319.8,1214.1 1320.8,1212.6 1321.8,1212.4 1322.8,1214.3 1323.9,1213.7 1324.9,1212.4 1325.9,1211.8 1326.9,1211.3 1328.0,1210.1 1329.0,1210.3 1330.0,1210.0 1331.0,1212.6 1332.1,1210.1 1333.1,1210.8 1334.2,1212.2 1335.2,1213.5 1336.3,1214.0 1337.3,1212.6 1338.3,1214.0 1339.4,1214.4 1340.4,1213.9 1341.5,1215.8 1342.5,1215.7 1343.6,1217.7 1344.6,1217.7 1345.7,1216.9 1346.7,1218.3 1347.7,1218.6 1348.8,1218.3 1349.8,1218.3 1350.8,1218.6 1351.9,1220.5 1352.9,1219.1 1354.0,1218.0 1355.0,1219.2 1356.0,1221.1 1357.1,1222.7 1358.1,1219.5 1359.2,1220.5 1360.2,1220.7 1361.2,1219.8 1362.3,1221.9 1363.3,1221.7 1364.4,1222.2 1365.4,1223.2 1366.5,1225.9 1367.6,1223.8 1368.6,1225.5 1369.7,1226.2 1370.7,1225.2 1371.8,1225.9 1372.9,1228.8 1373.9,1228.5 1375.0,1228.3 1376.0,1227.6 1377.1,1225.5 1378.1,1226.8 1379.2,1225.6 1380.2,1226.5 1381.2,1224.9 1382.3,1223.4 1383.3,1221.7 1384.3,1221.6 1385.4,1221.0 1386.4,1220.0 1387.4,1220.5 1388.5,1220.0 1389.5,1220.1 1390.5,1220.2 1391.5,1219.0 1392.6,1217.7 1393.6,1218.7 1394.6,1219.1 1395.7,1216.2 1396.7,1216.7 1397.7,1215.1 1398.7,1213.3 1399.7,1211.3 1400.7,1209.2 1401.7,1206.6 1402.7,1204.6 1403.7,1204.5 1404.7,1202.6 1405.7,1197.2 1406.7,1196.7 1407.8,1191.8 1408.9,1192.7 1410.0,1189.3 1411.1,1187.2 1412.2,1183.8 1413.3,1183.3 1415.0,1160.0 1416.0,1160.4 1417.0,1159.9 1418.0,1159.4 1419.0,1161.0 1420.0,1160.0 1421.1,1165.4 1422.2,1167.1 1423.3,1168.3 1424.3,1169.4 1425.3,1167.5 1426.3,1168.5 1427.3,1167.6 1428.3,1168.7 1429.3,1168.0 1430.3,1167.1 1431.3,1167.6 1432.3,1166.1 1433.3,1166.7 1434.3,1167.4 1435.4,1168.0 1436.4,1165.9 1437.4,1166.8 1438.5,1164.3 1439.5,1166.9 1440.5,1166.7 1441.5,1164.6 1442.6,1167.4 1443.6,1165.5 1444.6,1163.4 1445.7,1163.7 1446.7,1165.0 1447.8,1167.9 1448.9,1168.6 1450.0,1172.0 1451.1,1171.1 1452.2,1174.6 1453.3,1176.7 1454.4,1178.3 1455.5,1177.1 1456.7,1179.1 1457.8,1178.5 1458.9,1179.8 1460.0,1180.0 1461.1,1181.7 1462.2,1185.2 1463.3,1182.8 1464.5,1186.4 1465.6,1188.3 1466.7,1188.3 1467.7,1187.4 1468.7,1189.1 1469.7,1191.8 1470.7,1190.8 1471.7,1186.8 1472.7,1190.1 1473.7,1188.9 1474.7,1191.3 1475.7,1190.6 1476.7,1191.7 1477.7,1191.4 1478.7,1191.5 1479.7,1193.0 1480.7,1192.5 1481.7,1192.4 1482.7,1193.4 1483.7,1194.4 1484.7,1193.4 1485.7,1195.9 1486.7,1195.0 1487.8,1191.8 1488.9,1192.7 1490.0,1190.4 1491.1,1191.1 1492.2,1187.4 1493.3,1186.7 1494.3,1185.6 1495.4,1184.4 1496.4,1187.6 1497.5,1185.7 1498.5,1183.4 1499.6,1183.8 1500.6,1182.7 1501.7,1185.1 1502.7,1183.4 1503.7,1180.1 1504.8,1182.3 1505.8,1182.7 1506.9,1181.3 1507.9,1181.4 1509.0,1180.3 1510.0,1180.0 1511.0,1179.2 1512.0,1178.2 1513.0,1176.2 1514.0,1176.4 1515.0,1175.2 1516.0,1174.0 1517.0,1172.2 1518.0,1170.8 1519.0,1171.3 1520.0,1170.0 1521.0,1169.6 1522.0,1164.5 1523.0,1165.4 1524.0,1166.3 1525.0,1164.4 1526.0,1161.2 1527.0,1162.3 1528.0,1158.2 1529.0,1157.1 1530.0,1156.7 1531.0,1157.9 1532.0,1154.1 1533.1,1153.4 1534.1,1150.7 1535.1,1150.4 1536.1,1149.1 1537.2,1149.3 1538.2,1146.3 1539.2,1148.7 1540.2,1146.0 1541.3,1144.7 1542.3,1143.6 1543.3,1143.3 1544.3,1143.0 1545.3,1142.8 1546.3,1139.3 1547.3,1140.5 1548.3,1139.4 1549.3,1137.9 1550.3,1135.5 1551.3,1132.3 1552.3,1133.6 1553.3,1131.7 1554.3,1130.4 1555.3,1130.2 1556.3,1127.0 1557.3,1128.0 1558.3,1127.8 1559.3,1125.6 1560.3,1126.2 1561.3,1126.9 1562.3,1124.4 1563.3,1123.3 1564.4,1120.0 1565.5,1121.1 1566.7,1113.3 1567.8,1112.2 1568.9,1111.3 1570.0,1108.3 1571.0,1107.5 1572.1,1105.4 1573.1,1108.3 1574.2,1108.9 1575.2,1106.9 1576.3,1109.4 1577.3,1108.2 1578.3,1108.9 1579.4,1105.6 1580.4,1107.3 1581.5,1109.1 1582.5,1109.5 1583.6,1108.5 1584.6,1106.9 1585.7,1107.0 1586.7,1106.7 1587.7,1106.2 1588.7,1108.5 1589.8,1106.6 1590.8,1107.9 1591.8,1105.6 1592.8,1106.5 1593.9,1110.6 1594.9,1108.8 1595.9,1109.2 1596.9,1106.7 1598.0,1109.5 1599.0,1112.2 1600.0,1110.0 1601.0,1108.0 1602.0,1106.8 1603.1,1109.2 1604.1,1108.5 1605.1,1108.7 1606.1,1107.3 1607.2,1107.0 1608.2,1106.9 1609.2,1108.9 1610.2,1107.9 1611.3,1108.7 1612.3,1106.2 1613.3,1107.3 1614.3,1108.2 1615.4,1107.2 1616.4,1108.0 1617.4,1109.2 1618.5,1108.4 1619.5,1108.1 1620.5,1106.8 1621.5,1109.0 1622.6,1110.1 1623.6,1108.6 1624.6,1109.5 1625.7,1107.7 1626.7,1110.0 1627.7,1108.3 1628.7,1110.1 1629.7,1111.0 1630.7,1109.0 1631.7,1107.2 1632.7,1108.5 1633.7,1107.0 1634.7,1108.3 1635.7,1110.7 1636.7,1108.3 1637.7,1109.3 1638.7,1109.4 1639.8,1111.5 1640.8,1110.4 1641.8,1111.9 1642.8,1112.4 1643.9,1113.3 1644.9,1111.7 1645.9,1115.0 1646.9,1115.8 1648.0,1112.7 1649.0,1112.9 1650.0,1116.7 1651.1,1117.6 1652.2,1122.3 1653.3,1122.5 1654.5,1125.2 1655.6,1127.0 1656.7,1128.3 1657.7,1129.7 1658.7,1128.3 1659.8,1128.8 1660.8,1130.3 1661.8,1130.9 1662.8,1131.3 1663.9,1131.4 1664.9,1130.8 1665.9,1133.1 1666.9,1132.7 1668.0,1133.8 1669.0,1129.9 1670.0,1133.3 1671.0,1135.2 1672.0,1131.8 1673.0,1135.6 1674.0,1135.2 1675.0,1136.8 1676.0,1136.8 1677.0,1137.6 1678.0,1138.9 1679.0,1139.7 1680.0,1140.0 1681.0,1140.0 1682.0,1138.8 1683.1,1141.8 1684.1,1144.2 1685.1,1143.5 1686.1,1145.9 1687.2,1145.9 1688.2,1146.1 1689.2,1149.5 1690.2,1151.0 1691.3,1149.8 1692.3,1150.7 1693.3,1151.7 1694.3,1152.7 1695.4,1149.9 1696.4,1150.3 1697.4,1152.5 1698.5,1152.1 1699.5,1150.3 1700.5,1149.9 1701.5,1151.1 1702.6,1148.9 1703.6,1149.8 1704.6,1150.0 1705.7,1147.2 1706.7,1150.0 1707.7,1152.0 1708.7,1153.5 1709.8,1155.1 1710.8,1153.4 1711.8,1154.9 1712.8,1156.7 1713.9,1157.4 1714.9,1162.7 1715.9,1160.4 1716.9,1162.5 1718.0,1164.4 1719.0,1166.0 1720.0,1166.7 1721.1,1169.8 1722.1,1168.1 1723.2,1171.8 1724.3,1172.3 1725.3,1172.1 1726.4,1175.1 1727.4,1174.6 1728.5,1179.5 1729.6,1178.1 1730.6,1181.5 1731.7,1181.7 1732.7,1182.9 1733.7,1180.3 1734.7,1179.6 1735.7,1180.5 1736.7,1178.8 1737.7,1180.7 1738.7,1179.5 1739.7,1178.1 1740.7,1177.8 1741.7,1178.3 1742.7,1181.0 1743.8,1180.3 1744.8,1185.9 1745.8,1184.9 1746.9,1187.4 1747.9,1188.4 1749.0,1193.4 1750.0,1193.3 1751.0,1195.3 1752.0,1196.9 1753.0,1197.1 1754.0,1197.4 1755.0,1200.3 1756.0,1200.1 1757.0,1200.8 1758.0,1202.0 1759.0,1203.2 1760.0,1203.3 1761.1,1206.4 1762.2,1208.7 1763.3,1209.7 1764.5,1216.9 1765.6,1215.7 1766.7,1220.0 1767.7,1218.2 1768.7,1220.6 1769.7,1224.5 1770.7,1224.4 1771.7,1223.0 1772.7,1224.8 1773.7,1225.2 1774.7,1223.6 1775.7,1226.7 1776.8,1229.6 1777.9,1233.7 1779.0,1238.1 1780.1,1238.6 1781.2,1240.7 1782.3,1246.7 1783.3,1246.5 1784.3,1250.4 1785.3,1251.8 1786.3,1253.5 1787.3,1255.2 1788.3,1256.2 1789.3,1256.7 1790.3,1260.5 1791.3,1262.1 1792.3,1263.3 1793.3,1266.1 1794.4,1269.0 1795.5,1268.1 1796.5,1268.8 1797.5,1271.6 1798.6,1278.4 1799.7,1276.8 1800.7,1280.0 1801.7,1283.0 1802.8,1285.0 1803.8,1288.4 1804.8,1293.8 1805.9,1291.9 1806.9,1294.8 1808.0,1296.8 1809.0,1300.0 1810.0,1302.0 1811.0,1304.0 1812.0,1303.8 1813.0,1308.3 1814.0,1309.7 1815.0,1310.6 1816.0,1311.6 1817.0,1313.1 1818.0,1313.1 1819.0,1316.7 1820.0,1319.1 1821.0,1318.9 1822.0,1321.1 1823.0,1324.5 1824.0,1323.9 1825.0,1326.0 1826.0,1329.3 1827.0,1332.2 1828.0,1330.8 1829.0,1333.3 1830.0,1337.0 1831.0,1337.2 1832.0,1340.8 1833.0,1343.2 1834.0,1343.6 1835.0,1348.6 1836.0,1351.8 1837.0,1352.1 1838.0,1354.7 1839.0,1356.7 1840.0,1356.1 1841.0,1360.5 1842.0,1359.3 1843.0,1358.5 1844.0,1361.8 1845.0,1359.9 1846.0,1361.7 1847.0,1360.8 1848.0,1365.8 1849.0,1365.0 1850.0,1369.5 1851.0,1368.0 1852.0,1369.8 1853.0,1371.8 1854.0,1373.7 1855.0,1376.9 1856.0,1379.9 1857.0,1380.0 1858.0,1380.0 1859.0,1382.9 1860.0,1381.4 1861.0,1386.6 1862.0,1385.9 1863.0,1386.4 1864.0,1390.2 1865.0,1389.5 1866.0,1392.4 1867.0,1392.0 1868.0,1394.7 1869.0,1396.8 1870.0,1395.2 1871.0,1397.7 1872.0,1399.4 1873.0,1400.2 1874.0,1403.6 1875.0,1402.3 1876.0,1405.8 1877.0,1406.0 1878.0,1408.4 1879.0,1405.3 1880.0,1407.2 1881.0,1408.1 1882.0,1409.3 1883.0,1411.3 1884.0,1411.4 1885.0,1412.5 1886.0,1412.6 1887.0,1414.0 1888.0,1414.3 1889.0,1415.4 1890.0,1416.2 1891.0,1414.8 1892.0,1416.0 1893.0,1415.7 1894.0,1417.0 1895.0,1419.8 1896.0,1421.3 1897.0,1427.1 1898.0,1429.8 1899.0,1432.0 1900.0,1432.4 1901.0,1432.3 1902.1,1433.1 1903.1,1433.4 1904.1,1432.8 1905.1,1437.2 1906.2,1439.7 1907.2,1434.8 1908.2,1435.4 1909.2,1438.1 1910.3,1438.6 1911.3,1436.6 1912.3,1439.0 1913.3,1440.1 1914.3,1446.5 1915.3,1446.8 1916.3,1454.3 1917.3,1456.0 1918.3,1457.6 1919.3,1460.5 1920.3,1462.6 1921.3,1464.1 1922.3,1467.0 1923.3,1467.6 1924.3,1468.2 1925.3,1470.9 1926.3,1470.1 1927.3,1471.0 1928.3,1471.2 1929.3,1471.8 1930.3,1472.5 1931.3,1474.2 1932.3,1475.0 1933.4,1476.9 1934.5,1475.8 1935.7,1474.4 1936.8,1475.9 1937.9,1474.8 1939.0,1473.3 1940.1,1470.8 1941.2,1467.6 1942.3,1465.0 1943.3,1464.5 1944.3,1467.0 1945.3,1467.1 1946.3,1466.4 1947.3,1467.6 1948.3,1472.3 1949.3,1471.1 1950.3,1472.2 1951.3,1472.7 1952.3,1473.3 1953.3,1474.0 1954.4,1476.3 1955.4,1478.2 1956.4,1477.8 1957.5,1480.0 1958.5,1481.8 1959.5,1481.2 1960.5,1483.2 1961.6,1483.3 1962.6,1486.1 1963.6,1486.1 1964.7,1489.2 1965.7,1489.0 1966.7,1488.0 1967.7,1490.9 1968.7,1488.4 1969.7,1487.7 1970.7,1487.6 1971.7,1489.4 1972.7,1487.5 1973.7,1490.6 1974.7,1489.9 1975.7,1488.3 1976.7,1488.9 1977.8,1486.6 1978.8,1488.3 1979.8,1487.4 1980.9,1486.1 1981.9,1488.8 1983.0,1490.9 1984.0,1488.3 1985.0,1490.7 1986.0,1495.3 1987.0,1498.8 1988.0,1499.1 1989.0,1503.3 1990.0,1502.9 1991.0,1503.6 1992.0,1503.9 1993.0,1501.9 1994.0,1503.6 1995.0,1503.2 1996.0,1504.4 1997.0,1501.4 1998.0,1502.6 1999.0,1503.3 2000.0,1503.6 2001.0,1504.8 2002.0,1506.9 2003.0,1506.2 2004.0,1511.2 2005.0,1508.0 2006.0,1510.7 2007.0,1511.9 2008.0,1512.7 2009.0,1512.5 2010.0,1513.0 2011.1,1513.1 2012.1,1514.5 2013.2,1516.4 2014.2,1516.6 2015.3,1517.9 2016.3,1518.7 2017.3,1517.7 2018.4,1518.4 2019.4,1522.0 2020.5,1520.5 2021.5,1520.0 2022.6,1524.9 2023.6,1522.4 2024.7,1523.1 2025.7,1525.0 2026.7,1526.9 2027.7,1525.2 2028.8,1526.3 2029.8,1529.3 2030.8,1527.9 2031.8,1532.6 2032.9,1530.5 2033.9,1534.4 2034.9,1532.1 2035.9,1532.8 2037.0,1532.7 2038.0,1534.0 2039.0,1535.0 2040.0,1534.6 2041.0,1535.5 2042.0,1536.7 2043.0,1534.5 2044.0,1535.1 2045.0,1534.0 2046.0,1538.6 2047.0,1536.9 2048.0,1537.2 2049.0,1537.4 2050.0,1539.0 2051.0,1538.4 2052.0,1539.3 2053.0,1538.3 2054.0,1538.6 2055.0,1538.9 2056.0,1537.0 2057.0,1540.8 2058.0,1537.9 2059.0,1540.0 2060.0,1540.0 2061.0,1543.1 2062.0,1543.6 2063.0,1545.7 2064.0,1547.9 2065.0,1549.3 2066.0,1549.8 2067.0,1549.1 2068.0,1553.0 2069.0,1551.7 2070.0,1550.0 2071.1,1550.3 2072.1,1551.0 2073.2,1548.9 2074.2,1548.4 2075.2,1547.5 2076.3,1549.0 2077.3,1546.7 2078.4,1545.0 2079.4,1550.7 2080.4,1552.6 2081.5,1551.6 2082.6,1554.1 2083.6,1552.3 2084.6,1557.7 2085.7,1556.7 2086.7,1562.7 2087.7,1554.6 2088.8,1559.1 2089.8,1556.1 2090.8,1555.4 2091.8,1554.9 2092.9,1555.4 2093.9,1553.2 2094.9,1552.8 2095.9,1558.7 2097.0,1555.2 2098.0,1556.2 2099.0,1555.0 2100.0,1556.0 2101.1,1556.8 2102.1,1553.2 2103.2,1554.8 2104.2,1558.3 2105.2,1559.5 2106.3,1555.6 2107.3,1558.3 2108.3,1559.5 2109.3,1560.8 2110.3,1566.6 2111.3,1568.3 2112.3,1570.0 2114.0,1591.7 2115.1,1582.2 2116.2,1572.8 2117.3,1563.3 2118.4,1563.7 2119.4,1562.6 2120.5,1564.9 2121.6,1564.6 2122.6,1563.4 2123.7,1565.8 2124.7,1564.1 2125.8,1567.7 2126.9,1567.3 2127.9,1565.0 2129.0,1566.7 2130.0,1568.2 2131.0,1567.5 2132.0,1566.3 2133.0,1566.2 2134.0,1565.0 2135.0,1566.4 2136.0,1569.7 2137.0,1571.8 2138.0,1568.4 2139.0,1570.0 2140.0,1574.0 2141.0,1578.0 2142.0,1582.5 2143.0,1585.5 2144.0,1588.3 2145.0,1588.1 2146.0,1584.5 2147.0,1578.8 2148.0,1578.5 2149.0,1575.0 2150.0,1570.3 2151.0,1574.6 2152.1,1575.0 2153.1,1576.2 2154.1,1574.4 2155.1,1576.7 2156.2,1577.6 2157.2,1573.3 2158.2,1573.9 2159.2,1575.5 2160.3,1576.0 2161.3,1575.3 2162.3,1575.0 2163.4,1580.0 2164.6,1579.3 2165.7,1585.0 2166.7,1585.9 2167.7,1586.1 2168.8,1585.3 2169.8,1583.3 2170.8,1581.3 2171.8,1582.0 2172.9,1580.4 2173.9,1576.7 2174.9,1578.0 2175.9,1578.5 2177.0,1576.9 2178.0,1575.5 2179.0,1576.7 2180.0,1576.9 2181.0,1577.3 2182.0,1578.8 2183.0,1579.2 2184.0,1580.3 2185.0,1582.6 2186.0,1581.6 2187.0,1582.8 2188.0,1580.2 2189.0,1583.3 2190.1,1579.4 2191.2,1586.4 2192.3,1590.5 2193.5,1590.4 2194.6,1591.8 2195.7,1595.0 2196.8,1590.6 2197.9,1592.9 2199.0,1588.1 2200.1,1587.7 2201.2,1587.5 2202.3,1583.3 2203.4,1586.0 2204.5,1591.1 2205.7,1588.0 2206.8,1591.9 2207.9,1593.0 2209.0,1593.3 2210.1,1594.8 2211.2,1599.0 2212.3,1600.5 2213.5,1602.4 2214.6,1607.8 2215.7,1610.0 2216.8,1606.8 2217.9,1610.0 2219.0,1603.5 2220.1,1602.2 2221.2,1601.8 2222.3,1600.0 2223.4,1597.8 2224.5,1597.9 2225.7,1595.4 2226.8,1592.7 2227.9,1589.6 2229.0,1593.3 2230.1,1595.2 2231.2,1605.2 2232.3,1607.5 2233.5,1611.4 2234.6,1614.6 2235.7,1620.0 2236.8,1618.6 2237.9,1618.4 2239.0,1613.9 2240.1,1613.9 2241.2,1612.6 2242.3,1613.3 2243.3,1616.2 2244.3,1611.9 2245.3,1616.7 2246.3,1613.7 2247.3,1620.5 2248.3,1615.2 2249.3,1615.7 2250.3,1618.7 2251.3,1618.1 2252.3,1616.7 2253.4,1620.8 2254.5,1619.0 2255.7,1625.6 2256.8,1628.9 2257.9,1627.6 2259.0,1630.0 2260.1,1629.0 2261.2,1627.8 2262.3,1632.0 2263.5,1630.6 2264.6,1630.0 2265.7,1630.0 2266.8,1628.9 2267.9,1636.0 2269.0,1635.9 2270.1,1635.5 2271.2,1639.9 2272.3,1638.3" fill="none" stroke="#000000" stroke-width="6.3" stroke-linejoin="round" stroke-linecap="butt"/>
<rect x="492.5" y="149.0" width="8.2" height="80.0" fill="#008a00"/>
<rect x="488.0" y="202.5" width="12.7" height="26.5" fill="#008a00"/>
<rect x="488.0" y="229.0" width="16.3" height="152.0" fill="#008a00"/>
<rect x="485.3" y="380.0" width="8.1" height="197.0" fill="#008a00"/>
<rect x="495.3" y="380.0" width="9.0" height="116.0" fill="#008a00"/>
<rect x="499.0" y="495.0" width="7.5" height="138.0" fill="#008a00"/>
<rect x="537.8" y="373.7" width="9.1" height="58.3" fill="#008a00"/>
<rect x="534.5" y="431.0" width="12.4" height="71.0" fill="#008a00"/>
<rect x="534.5" y="501.0" width="16.5" height="70.0" fill="#008a00"/>
<rect x="535.2" y="570.0" width="15.0" height="101.0" fill="#008a00"/>
<polygon points="465,814 465,792 469,778 481,771 483,800 479,814" fill="#008a00"/>
<line x1="166" y1="45.0" x2="166" y2="1743" stroke="#000" stroke-width="6"/>
<line x1="2276" y1="45.0" x2="2276" y2="1729.5" stroke="#000" stroke-width="6"/>
<line x1="163.5" y1="47.5" x2="781" y2="47.5" stroke="#000" stroke-width="5.2"/>
<line x1="818" y1="47.5" x2="2278.5" y2="47.5" stroke="#000" stroke-width="5.2"/>
<line x1="163.5" y1="1727" x2="779" y2="1727" stroke="#000" stroke-width="6"/>
<line x1="818" y1="1727" x2="2278.5" y2="1727" stroke="#000" stroke-width="6"/>
<line x1="761.5" y1="78" x2="800" y2="17.5" stroke="#000" stroke-width="5"/>
<line x1="799" y1="78" x2="836" y2="17.5" stroke="#000" stroke-width="5"/>
<line x1="760" y1="1757.5" x2="799" y2="1697.5" stroke="#000" stroke-width="5"/>
<line x1="800" y1="1757" x2="837.5" y2="1697" stroke="#000" stroke-width="5"/>
<line x1="301.9" y1="1727" x2="301.9" y2="1758" stroke="#000" stroke-width="5"/>
<line x1="438.8" y1="1727" x2="438.8" y2="1744" stroke="#000" stroke-width="5"/>
<line x1="575.7" y1="1727" x2="575.7" y2="1758" stroke="#000" stroke-width="5"/>
<line x1="712.6" y1="1727" x2="712.6" y2="1744" stroke="#000" stroke-width="5"/>
<line x1="865.2" y1="1727" x2="865.2" y2="1744" stroke="#000" stroke-width="5"/>
<line x1="1011.3" y1="1727" x2="1011.3" y2="1758" stroke="#000" stroke-width="5"/>
<line x1="1157.4" y1="1727" x2="1157.4" y2="1744" stroke="#000" stroke-width="5"/>
<line x1="1303.4" y1="1727" x2="1303.4" y2="1758" stroke="#000" stroke-width="5"/>
<line x1="1449.5" y1="1727" x2="1449.5" y2="1744" stroke="#000" stroke-width="5"/>
<line x1="1595.6" y1="1727" x2="1595.6" y2="1758" stroke="#000" stroke-width="5"/>
<line x1="1741.7" y1="1727" x2="1741.7" y2="1744" stroke="#000" stroke-width="5"/>
<line x1="1887.7" y1="1727" x2="1887.7" y2="1758" stroke="#000" stroke-width="5"/>
<line x1="2033.8" y1="1727" x2="2033.8" y2="1744" stroke="#000" stroke-width="5"/>
<line x1="2179.9" y1="1727" x2="2179.9" y2="1758" stroke="#000" stroke-width="5"/>
<line x1="85.5" y1="655" x2="85.5" y2="804" stroke="#000" stroke-width="3"/>
<path d="M85.5 618 L95 659 L76 659 Z" fill="#000"/>
</svg></body></html>
